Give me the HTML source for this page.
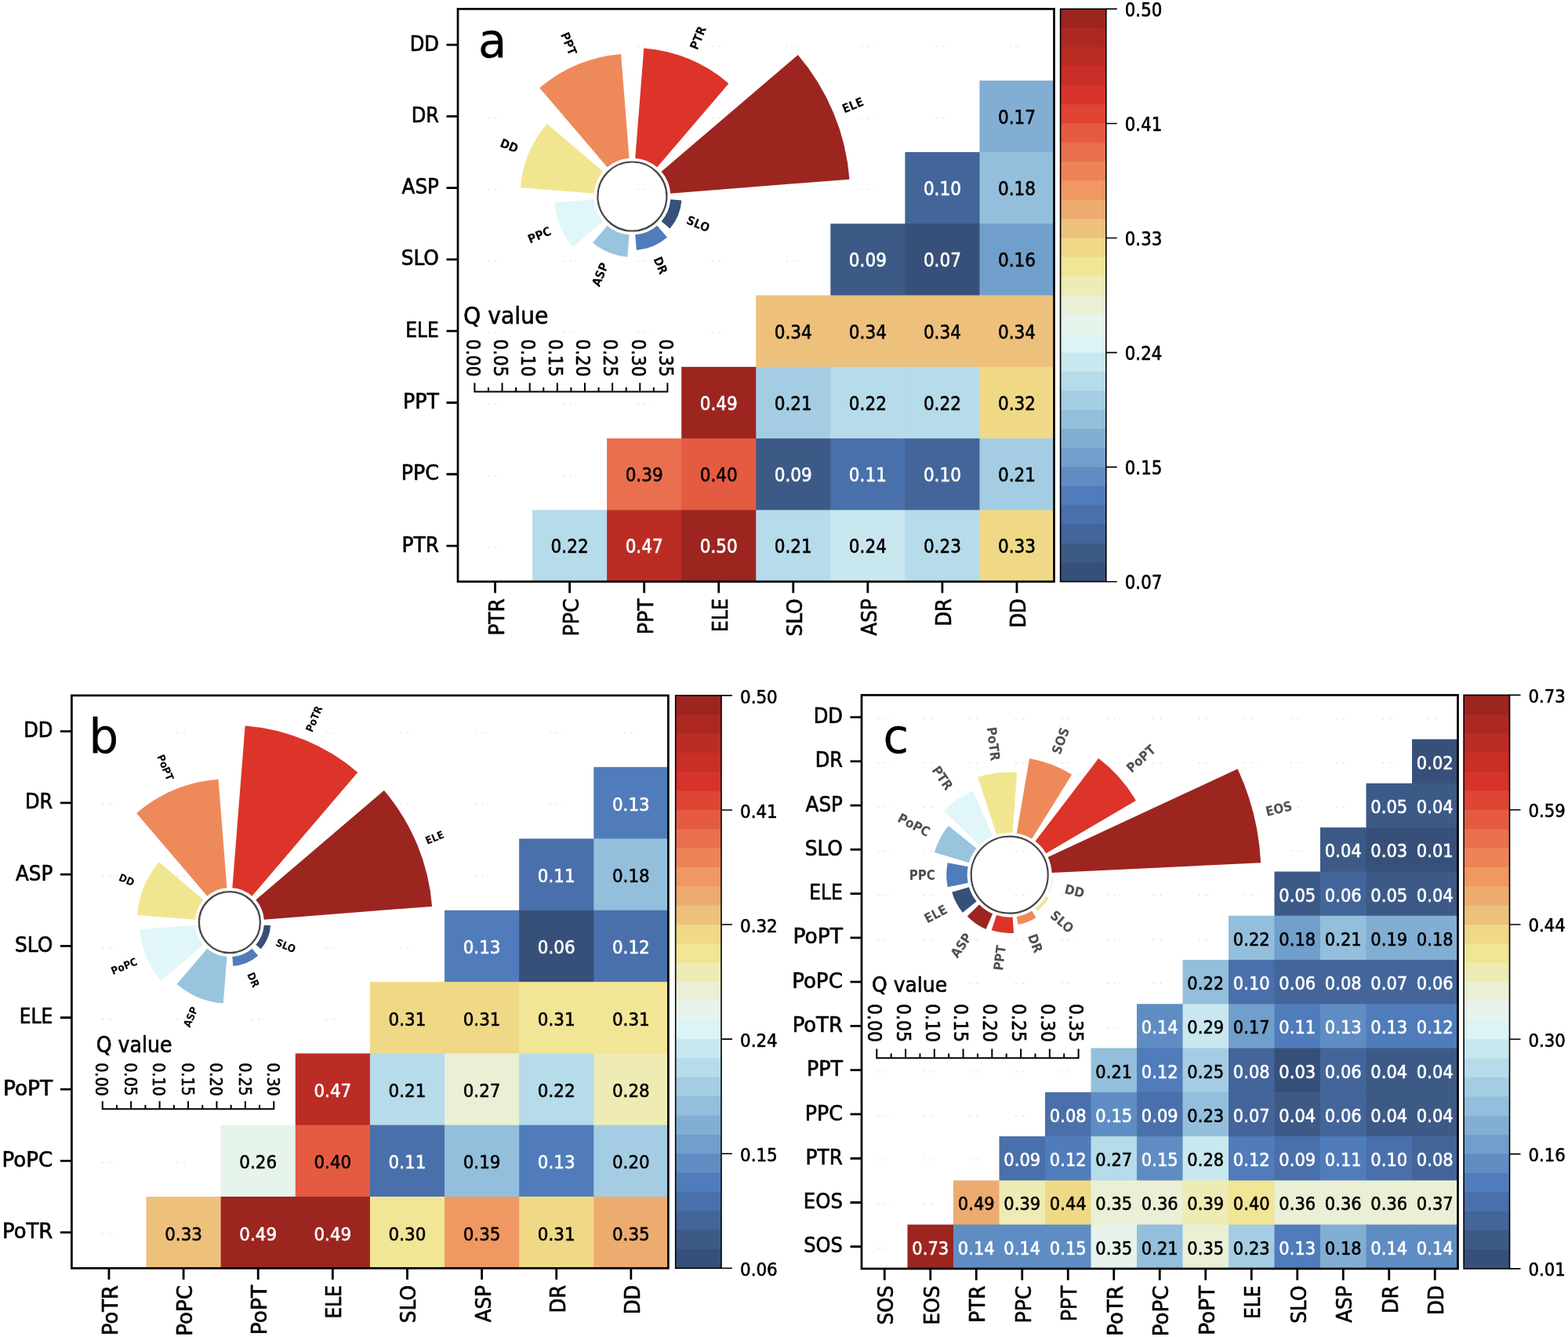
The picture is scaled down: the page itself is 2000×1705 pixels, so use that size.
<!DOCTYPE html>
<html lang="en"><head><meta charset="utf-8"><title>Q value heatmaps</title>
<style>
html,body{margin:0;padding:0;background:#fff}
body{width:2000px;height:1705px;overflow:hidden}
svg{display:block}
svg text{font-family:"DejaVu Sans Condensed","Liberation Sans",sans-serif;fill:#000;stroke:#000;stroke-width:0.6px;stroke-linejoin:round}
svg .rl text{font-family:"DejaVu Sans Condensed","Liberation Sans",sans-serif;font-weight:bold;stroke:none}
svg .rlg text{fill:#4f4f4f}
svg text.w{fill:#fff;stroke:#fff}
svg text.pl{stroke-width:0.3px}
</style></head><body>
<svg width="2000" height="1705" viewBox="0 0 2000 1705">
<rect width="2000" height="1705" fill="#fff"/>
<g id="panel-a">
<g class="cells">
<rect x="1249.44" y="102.69" width="95.06" height="92.29" fill="#82aed3"/>
<rect x="1154.38" y="193.98" width="96.06" height="92.29" fill="#43659a"/>
<rect x="1249.44" y="193.98" width="95.06" height="92.29" fill="#93bfdc"/>
<rect x="1059.31" y="285.26" width="96.06" height="92.29" fill="#3d5a87"/>
<rect x="1154.38" y="285.26" width="96.06" height="92.29" fill="#365079"/>
<rect x="1249.44" y="285.26" width="95.06" height="92.29" fill="#719fcb"/>
<rect x="964.25" y="376.55" width="96.06" height="92.29" fill="#edc07c"/>
<rect x="1059.31" y="376.55" width="96.06" height="92.29" fill="#edc07c"/>
<rect x="1154.38" y="376.55" width="96.06" height="92.29" fill="#edc07c"/>
<rect x="1249.44" y="376.55" width="95.06" height="92.29" fill="#edc07c"/>
<rect x="869.19" y="467.84" width="96.06" height="92.29" fill="#9c2520"/>
<rect x="964.25" y="467.84" width="96.06" height="92.29" fill="#a4cde3"/>
<rect x="1059.31" y="467.84" width="96.06" height="92.29" fill="#b6dbea"/>
<rect x="1154.38" y="467.84" width="96.06" height="92.29" fill="#b6dbea"/>
<rect x="1249.44" y="467.84" width="95.06" height="92.29" fill="#f0d986"/>
<rect x="774.12" y="559.12" width="96.06" height="92.29" fill="#e96f4e"/>
<rect x="869.19" y="559.12" width="96.06" height="92.29" fill="#e55b42"/>
<rect x="964.25" y="559.12" width="96.06" height="92.29" fill="#3d5a87"/>
<rect x="1059.31" y="559.12" width="96.06" height="92.29" fill="#4a70ab"/>
<rect x="1154.38" y="559.12" width="96.06" height="92.29" fill="#43659a"/>
<rect x="1249.44" y="559.12" width="95.06" height="92.29" fill="#a4cde3"/>
<rect x="679.06" y="650.41" width="96.06" height="91.29" fill="#b6dbea"/>
<rect x="774.12" y="650.41" width="96.06" height="91.29" fill="#bb2c25"/>
<rect x="869.19" y="650.41" width="96.06" height="91.29" fill="#9c2520"/>
<rect x="964.25" y="650.41" width="96.06" height="91.29" fill="#b6dbea"/>
<rect x="1059.31" y="650.41" width="96.06" height="91.29" fill="#c9e7ef"/>
<rect x="1154.38" y="650.41" width="96.06" height="91.29" fill="#b6dbea"/>
<rect x="1249.44" y="650.41" width="95.06" height="91.29" fill="#f0d986"/>
</g>
<path d="M622.63 58.14h1.8v1.8h-1.8zM631.73 58.14h1.8v1.8h-1.8zM717.69 58.14h1.8v1.8h-1.8zM726.79 58.14h1.8v1.8h-1.8zM812.76 58.14h1.8v1.8h-1.8zM821.86 58.14h1.8v1.8h-1.8zM907.82 58.14h1.8v1.8h-1.8zM916.92 58.14h1.8v1.8h-1.8zM1002.88 58.14h1.8v1.8h-1.8zM1011.98 58.14h1.8v1.8h-1.8zM1097.94 58.14h1.8v1.8h-1.8zM1107.04 58.14h1.8v1.8h-1.8zM1193.01 58.14h1.8v1.8h-1.8zM1202.11 58.14h1.8v1.8h-1.8zM1288.07 58.14h1.8v1.8h-1.8zM1297.17 58.14h1.8v1.8h-1.8zM622.63 149.43h1.8v1.8h-1.8zM631.73 149.43h1.8v1.8h-1.8zM717.69 149.43h1.8v1.8h-1.8zM726.79 149.43h1.8v1.8h-1.8zM812.76 149.43h1.8v1.8h-1.8zM821.86 149.43h1.8v1.8h-1.8zM907.82 149.43h1.8v1.8h-1.8zM916.92 149.43h1.8v1.8h-1.8zM1002.88 149.43h1.8v1.8h-1.8zM1011.98 149.43h1.8v1.8h-1.8zM1097.94 149.43h1.8v1.8h-1.8zM1107.04 149.43h1.8v1.8h-1.8zM1193.01 149.43h1.8v1.8h-1.8zM1202.11 149.43h1.8v1.8h-1.8zM622.63 240.72h1.8v1.8h-1.8zM631.73 240.72h1.8v1.8h-1.8zM717.69 240.72h1.8v1.8h-1.8zM726.79 240.72h1.8v1.8h-1.8zM812.76 240.72h1.8v1.8h-1.8zM821.86 240.72h1.8v1.8h-1.8zM907.82 240.72h1.8v1.8h-1.8zM916.92 240.72h1.8v1.8h-1.8zM1002.88 240.72h1.8v1.8h-1.8zM1011.98 240.72h1.8v1.8h-1.8zM1097.94 240.72h1.8v1.8h-1.8zM1107.04 240.72h1.8v1.8h-1.8zM622.63 332.01h1.8v1.8h-1.8zM631.73 332.01h1.8v1.8h-1.8zM717.69 332.01h1.8v1.8h-1.8zM726.79 332.01h1.8v1.8h-1.8zM812.76 332.01h1.8v1.8h-1.8zM821.86 332.01h1.8v1.8h-1.8zM907.82 332.01h1.8v1.8h-1.8zM916.92 332.01h1.8v1.8h-1.8zM1002.88 332.01h1.8v1.8h-1.8zM1011.98 332.01h1.8v1.8h-1.8zM622.63 423.29h1.8v1.8h-1.8zM631.73 423.29h1.8v1.8h-1.8zM717.69 423.29h1.8v1.8h-1.8zM726.79 423.29h1.8v1.8h-1.8zM812.76 423.29h1.8v1.8h-1.8zM821.86 423.29h1.8v1.8h-1.8zM907.82 423.29h1.8v1.8h-1.8zM916.92 423.29h1.8v1.8h-1.8zM622.63 514.58h1.8v1.8h-1.8zM631.73 514.58h1.8v1.8h-1.8zM717.69 514.58h1.8v1.8h-1.8zM726.79 514.58h1.8v1.8h-1.8zM812.76 514.58h1.8v1.8h-1.8zM821.86 514.58h1.8v1.8h-1.8zM622.63 605.87h1.8v1.8h-1.8zM631.73 605.87h1.8v1.8h-1.8zM717.69 605.87h1.8v1.8h-1.8zM726.79 605.87h1.8v1.8h-1.8zM622.63 697.16h1.8v1.8h-1.8zM631.73 697.16h1.8v1.8h-1.8z" fill="#dee3ec"/>
<path d="M628.93 58.04h1.6v1.8h-1.6zM638.13 58.04h1.6v1.8h-1.6zM723.99 58.04h1.6v1.8h-1.6zM733.19 58.04h1.6v1.8h-1.6zM819.06 58.04h1.6v1.8h-1.6zM828.26 58.04h1.6v1.8h-1.6zM914.12 58.04h1.6v1.8h-1.6zM923.32 58.04h1.6v1.8h-1.6zM1009.18 58.04h1.6v1.8h-1.6zM1018.38 58.04h1.6v1.8h-1.6zM1104.24 58.04h1.6v1.8h-1.6zM1113.44 58.04h1.6v1.8h-1.6zM1199.31 58.04h1.6v1.8h-1.6zM1208.51 58.04h1.6v1.8h-1.6zM1294.37 58.04h1.6v1.8h-1.6zM1303.57 58.04h1.6v1.8h-1.6zM628.93 149.33h1.6v1.8h-1.6zM638.13 149.33h1.6v1.8h-1.6zM723.99 149.33h1.6v1.8h-1.6zM733.19 149.33h1.6v1.8h-1.6zM819.06 149.33h1.6v1.8h-1.6zM828.26 149.33h1.6v1.8h-1.6zM914.12 149.33h1.6v1.8h-1.6zM923.32 149.33h1.6v1.8h-1.6zM1009.18 149.33h1.6v1.8h-1.6zM1018.38 149.33h1.6v1.8h-1.6zM1104.24 149.33h1.6v1.8h-1.6zM1113.44 149.33h1.6v1.8h-1.6zM1199.31 149.33h1.6v1.8h-1.6zM1208.51 149.33h1.6v1.8h-1.6zM628.93 240.62h1.6v1.8h-1.6zM638.13 240.62h1.6v1.8h-1.6zM723.99 240.62h1.6v1.8h-1.6zM733.19 240.62h1.6v1.8h-1.6zM819.06 240.62h1.6v1.8h-1.6zM828.26 240.62h1.6v1.8h-1.6zM914.12 240.62h1.6v1.8h-1.6zM923.32 240.62h1.6v1.8h-1.6zM1009.18 240.62h1.6v1.8h-1.6zM1018.38 240.62h1.6v1.8h-1.6zM1104.24 240.62h1.6v1.8h-1.6zM1113.44 240.62h1.6v1.8h-1.6zM628.93 331.91h1.6v1.8h-1.6zM638.13 331.91h1.6v1.8h-1.6zM723.99 331.91h1.6v1.8h-1.6zM733.19 331.91h1.6v1.8h-1.6zM819.06 331.91h1.6v1.8h-1.6zM828.26 331.91h1.6v1.8h-1.6zM914.12 331.91h1.6v1.8h-1.6zM923.32 331.91h1.6v1.8h-1.6zM1009.18 331.91h1.6v1.8h-1.6zM1018.38 331.91h1.6v1.8h-1.6zM628.93 423.19h1.6v1.8h-1.6zM638.13 423.19h1.6v1.8h-1.6zM723.99 423.19h1.6v1.8h-1.6zM733.19 423.19h1.6v1.8h-1.6zM819.06 423.19h1.6v1.8h-1.6zM828.26 423.19h1.6v1.8h-1.6zM914.12 423.19h1.6v1.8h-1.6zM923.32 423.19h1.6v1.8h-1.6zM628.93 514.48h1.6v1.8h-1.6zM638.13 514.48h1.6v1.8h-1.6zM723.99 514.48h1.6v1.8h-1.6zM733.19 514.48h1.6v1.8h-1.6zM819.06 514.48h1.6v1.8h-1.6zM828.26 514.48h1.6v1.8h-1.6zM628.93 605.77h1.6v1.8h-1.6zM638.13 605.77h1.6v1.8h-1.6zM723.99 605.77h1.6v1.8h-1.6zM733.19 605.77h1.6v1.8h-1.6zM628.93 697.06h1.6v1.8h-1.6zM638.13 697.06h1.6v1.8h-1.6z" fill="#fbfbf1"/>
<g class="rose">
<path d="M855.25 246.66L1083.54 228.69A278 278 0 0 0 1017.79 69.95L843.66 218.68A49 49 0 0 1 855.25 246.66Z" fill="#9c2520"/>
<path d="M838.22 213.24L929.47 106.4A189.5 189.5 0 0 0 821.27 61.58L810.24 201.65A49 49 0 0 1 838.22 213.24Z" fill="#dc3429"/>
<path d="M802.56 201.65L792.12 69.06A182 182 0 0 0 688.2 112.11L774.58 213.24A49 49 0 0 1 802.56 201.65Z" fill="#ee8a5a"/>
<path d="M769.14 218.68L697.66 157.63A143 143 0 0 0 663.84 239.28L757.55 246.66A49 49 0 0 1 769.14 218.68Z" fill="#f1e690"/>
<path d="M757.55 254.34L707.21 258.31A99.5 99.5 0 0 0 730.74 315.12L769.14 282.32A49 49 0 0 1 757.55 254.34Z" fill="#e1f6f9"/>
<path d="M774.58 287.76L756.07 309.43A77.5 77.5 0 0 0 800.32 327.76L802.56 299.35A49 49 0 0 1 774.58 287.76Z" fill="#98c4de"/>
<path d="M810.24 299.35L811.79 318.99A68.7 68.7 0 0 0 851.02 302.74L838.22 287.76A49 49 0 0 1 810.24 299.35Z" fill="#507cbb"/>
<path d="M843.66 282.32L854.46 291.55A63.2 63.2 0 0 0 869.41 255.46L855.25 254.34A49 49 0 0 1 843.66 282.32Z" fill="#365079"/>
<circle cx="806.4" cy="250.5" r="44" fill="none" stroke="#484848" stroke-width="2.2"/>
</g>
<g class="cv" text-anchor="middle">
<text font-size="24" transform="translate(1296.97 157.68)">0.17</text>
<text font-size="24" transform="translate(1201.91 248.97)" class="w">0.10</text>
<text font-size="24" transform="translate(1296.97 248.97)">0.18</text>
<text font-size="24" transform="translate(1106.84 340.25)" class="w">0.09</text>
<text font-size="24" transform="translate(1201.91 340.25)" class="w">0.07</text>
<text font-size="24" transform="translate(1296.97 340.25)">0.16</text>
<text font-size="24" transform="translate(1011.78 431.54)">0.34</text>
<text font-size="24" transform="translate(1106.84 431.54)">0.34</text>
<text font-size="24" transform="translate(1201.91 431.54)">0.34</text>
<text font-size="24" transform="translate(1296.97 431.54)">0.34</text>
<text font-size="24" transform="translate(916.72 522.83)" class="w">0.49</text>
<text font-size="24" transform="translate(1011.78 522.83)">0.21</text>
<text font-size="24" transform="translate(1106.84 522.83)">0.22</text>
<text font-size="24" transform="translate(1201.91 522.83)">0.22</text>
<text font-size="24" transform="translate(1296.97 522.83)">0.32</text>
<text font-size="24" transform="translate(821.66 614.12)">0.39</text>
<text font-size="24" transform="translate(916.72 614.12)">0.40</text>
<text font-size="24" transform="translate(1011.78 614.12)" class="w">0.09</text>
<text font-size="24" transform="translate(1106.84 614.12)" class="w">0.11</text>
<text font-size="24" transform="translate(1201.91 614.12)" class="w">0.10</text>
<text font-size="24" transform="translate(1296.97 614.12)">0.21</text>
<text font-size="24" transform="translate(726.59 705.4)">0.22</text>
<text font-size="24" transform="translate(821.66 705.4)" class="w">0.47</text>
<text font-size="24" transform="translate(916.72 705.4)" class="w">0.50</text>
<text font-size="24" transform="translate(1011.78 705.4)">0.21</text>
<text font-size="24" transform="translate(1106.84 705.4)">0.24</text>
<text font-size="24" transform="translate(1201.91 705.4)">0.23</text>
<text font-size="24" transform="translate(1296.97 705.4)">0.33</text>
</g>
<rect x="584" y="11.4" width="760.5" height="730.3" fill="none" stroke="#000" stroke-width="2.7"/>
<path d="M569.5 57.04H584M631.53 741.7V756.2M569.5 148.33H584M726.59 741.7V756.2M569.5 239.62H584M821.66 741.7V756.2M569.5 330.91H584M916.72 741.7V756.2M569.5 422.19H584M1011.78 741.7V756.2M569.5 513.48H584M1106.84 741.7V756.2M569.5 604.77H584M1201.91 741.7V756.2M569.5 696.06H584M1296.97 741.7V756.2" stroke="#000" stroke-width="2.8" fill="none"/>
<g class="yl" text-anchor="end">
<text font-size="26" transform="translate(559.9 64.62) scale(1.032 1)">DD</text>
<text font-size="26" transform="translate(559.9 155.91) scale(1.029 1)">DR</text>
<text font-size="26" transform="translate(559.9 247.2) scale(1.053 1)">ASP</text>
<text font-size="26" transform="translate(559.9 338.48) scale(1.064 1)">SLO</text>
<text font-size="26" transform="translate(559.9 429.77) scale(1 1)">ELE</text>
<text font-size="26" transform="translate(559.9 521.06) scale(1.08 1)">PPT</text>
<text font-size="26" transform="translate(559.9 612.35) scale(1.08 1)">PPC</text>
<text font-size="26" transform="translate(559.9 703.63) scale(1.06 1)">PTR</text>
</g>
<g class="xl" text-anchor="end">
<text font-size="26" transform="translate(642.51 763.3) rotate(-90) scale(1.06 1)">PTR</text>
<text font-size="26" transform="translate(737.57 763.3) rotate(-90) scale(1.08 1)">PPC</text>
<text font-size="26" transform="translate(832.63 763.3) rotate(-90) scale(1.08 1)">PPT</text>
<text font-size="26" transform="translate(927.7 763.3) rotate(-90) scale(1 1)">ELE</text>
<text font-size="26" transform="translate(1022.76 763.3) rotate(-90) scale(1.064 1)">SLO</text>
<text font-size="26" transform="translate(1117.82 763.3) rotate(-90) scale(1.053 1)">ASP</text>
<text font-size="26" transform="translate(1212.88 763.3) rotate(-90) scale(1.029 1)">DR</text>
<text font-size="26" transform="translate(1307.95 763.3) rotate(-90) scale(1.032 1)">DD</text>
</g>
<g class="cbar">
<rect x="1352.6" y="11.4" width="58.2" height="25.34" fill="#9c2520"/>
<rect x="1352.6" y="35.74" width="58.2" height="25.34" fill="#ad2822"/>
<rect x="1352.6" y="60.09" width="58.2" height="25.34" fill="#bb2c25"/>
<rect x="1352.6" y="84.43" width="58.2" height="25.34" fill="#c92e27"/>
<rect x="1352.6" y="108.77" width="58.2" height="25.34" fill="#d8332a"/>
<rect x="1352.6" y="133.12" width="58.2" height="25.34" fill="#e04434"/>
<rect x="1352.6" y="157.46" width="58.2" height="25.34" fill="#e55b42"/>
<rect x="1352.6" y="181.8" width="58.2" height="25.34" fill="#e96f4e"/>
<rect x="1352.6" y="206.15" width="58.2" height="25.34" fill="#ee8358"/>
<rect x="1352.6" y="230.49" width="58.2" height="25.34" fill="#ef9862"/>
<rect x="1352.6" y="254.83" width="58.2" height="25.34" fill="#ecab6f"/>
<rect x="1352.6" y="279.18" width="58.2" height="25.34" fill="#edc07c"/>
<rect x="1352.6" y="303.52" width="58.2" height="25.34" fill="#f0d986"/>
<rect x="1352.6" y="327.86" width="58.2" height="25.34" fill="#f1e596"/>
<rect x="1352.6" y="352.21" width="58.2" height="25.34" fill="#eeebb4"/>
<rect x="1352.6" y="376.55" width="58.2" height="25.34" fill="#eaf0d6"/>
<rect x="1352.6" y="400.89" width="58.2" height="25.34" fill="#e6f4eb"/>
<rect x="1352.6" y="425.24" width="58.2" height="25.34" fill="#dcf4f6"/>
<rect x="1352.6" y="449.58" width="58.2" height="25.34" fill="#c9e7ef"/>
<rect x="1352.6" y="473.92" width="58.2" height="25.34" fill="#b6dbea"/>
<rect x="1352.6" y="498.27" width="58.2" height="25.34" fill="#a4cde3"/>
<rect x="1352.6" y="522.61" width="58.2" height="25.34" fill="#93bfdc"/>
<rect x="1352.6" y="546.95" width="58.2" height="25.34" fill="#82aed3"/>
<rect x="1352.6" y="571.3" width="58.2" height="25.34" fill="#719fcb"/>
<rect x="1352.6" y="595.64" width="58.2" height="25.34" fill="#5f8dc3"/>
<rect x="1352.6" y="619.98" width="58.2" height="25.34" fill="#507cbb"/>
<rect x="1352.6" y="644.33" width="58.2" height="25.34" fill="#4a70ab"/>
<rect x="1352.6" y="668.67" width="58.2" height="25.34" fill="#43659a"/>
<rect x="1352.6" y="693.01" width="58.2" height="25.34" fill="#3d5a87"/>
<rect x="1352.6" y="717.36" width="58.2" height="24.34" fill="#365079"/>
</g>
<rect x="1352.6" y="11.4" width="58.2" height="730.3" fill="none" stroke="#000" stroke-width="1.6"/>
<path d="M1410.8 11.4H1424.8M1410.8 157.46H1424.8M1410.8 303.52H1424.8M1410.8 449.58H1424.8M1410.8 595.64H1424.8M1410.8 741.7H1424.8" stroke="#000" stroke-width="1.6" fill="none"/>
<g class="cl">
<text font-size="24" transform="translate(1434.8 21.15) scale(0.988 1)">0.50</text>
<text font-size="24" transform="translate(1434.8 167.21) scale(0.988 1)">0.41</text>
<text font-size="24" transform="translate(1434.8 313.27) scale(0.988 1)">0.33</text>
<text font-size="24" transform="translate(1434.8 459.33) scale(0.988 1)">0.24</text>
<text font-size="24" transform="translate(1434.8 605.39) scale(0.988 1)">0.15</text>
<text font-size="24" transform="translate(1434.8 751.45) scale(0.988 1)">0.07</text>
</g>
<text font-size="61" transform="translate(610 73) scale(1.08 1)" class="pl">a</text>
<g class="rose-labels">
<g class="rl" text-anchor="middle" font-size="15.5">
<text transform="translate(1087.63 134.01) rotate(-22.5)" y="5.65">ELE</text>
<text transform="translate(890.13 48.36) rotate(-67.5)" y="5.65">PTR</text>
<text transform="translate(725.65 55.56) rotate(67.5)" y="5.65">PPT</text>
<text transform="translate(649.71 185.6) rotate(22.5)" y="5.65">DD</text>
<text transform="translate(687.96 299.56) rotate(-22.5)" y="5.65">PPC</text>
<text transform="translate(765.15 350.09) rotate(-67.5)" y="5.65">ASP</text>
<text transform="translate(842.79 338.36) rotate(-292.5)" y="5.65">DR</text>
<text transform="translate(890.57 285.36) rotate(-337.5)" y="5.65">SLO</text>
</g>
</g>
<g class="qscale">
<text font-size="30.5" transform="translate(591 412.6) scale(1.03 1)">Q value</text>
<path d="M604.4 499.6H852.4M605.4 499.6V488.2M622.97 499.6V494M640.54 499.6V488.2M658.11 499.6V494M675.69 499.6V488.2M693.26 499.6V494M710.83 499.6V488.2M728.4 499.6V494M745.97 499.6V488.2M763.54 499.6V494M781.11 499.6V488.2M798.69 499.6V494M816.26 499.6V488.2M833.83 499.6V494M851.4 499.6V488.2" stroke="#000" stroke-width="2" fill="none"/>
<g text-anchor="end">
<text font-size="24" transform="translate(594.65 480.5) rotate(90)">0.00</text>
<text font-size="24" transform="translate(629.79 480.5) rotate(90)">0.05</text>
<text font-size="24" transform="translate(664.94 480.5) rotate(90)">0.10</text>
<text font-size="24" transform="translate(700.08 480.5) rotate(90)">0.15</text>
<text font-size="24" transform="translate(735.22 480.5) rotate(90)">0.20</text>
<text font-size="24" transform="translate(770.37 480.5) rotate(90)">0.25</text>
<text font-size="24" transform="translate(805.51 480.5) rotate(90)">0.30</text>
<text font-size="24" transform="translate(840.65 480.5) rotate(90)">0.35</text>
</g>
</g>
</g>
<g id="panel-b">
<g class="cells">
<rect x="757.27" y="978.2" width="95.12" height="92.3" fill="#507cbb"/>
<rect x="662.15" y="1069.5" width="96.12" height="92.3" fill="#4a70ab"/>
<rect x="757.27" y="1069.5" width="95.12" height="92.3" fill="#93bfdc"/>
<rect x="567.02" y="1160.8" width="96.12" height="92.3" fill="#507cbb"/>
<rect x="662.15" y="1160.8" width="96.12" height="92.3" fill="#365079"/>
<rect x="757.27" y="1160.8" width="95.12" height="92.3" fill="#4a70ab"/>
<rect x="471.9" y="1252.1" width="96.12" height="92.3" fill="#f0d986"/>
<rect x="567.02" y="1252.1" width="96.12" height="92.3" fill="#f0d986"/>
<rect x="662.15" y="1252.1" width="96.12" height="92.3" fill="#f1e596"/>
<rect x="757.27" y="1252.1" width="95.12" height="92.3" fill="#f1e596"/>
<rect x="376.77" y="1343.4" width="96.12" height="92.3" fill="#bb2c25"/>
<rect x="471.9" y="1343.4" width="96.12" height="92.3" fill="#b6dbea"/>
<rect x="567.02" y="1343.4" width="96.12" height="92.3" fill="#eaf0d6"/>
<rect x="662.15" y="1343.4" width="96.12" height="92.3" fill="#b6dbea"/>
<rect x="757.27" y="1343.4" width="95.12" height="92.3" fill="#eeebb4"/>
<rect x="281.65" y="1434.7" width="96.12" height="92.3" fill="#e6f4eb"/>
<rect x="376.77" y="1434.7" width="96.12" height="92.3" fill="#e55b42"/>
<rect x="471.9" y="1434.7" width="96.12" height="92.3" fill="#4a70ab"/>
<rect x="567.02" y="1434.7" width="96.12" height="92.3" fill="#93bfdc"/>
<rect x="662.15" y="1434.7" width="96.12" height="92.3" fill="#507cbb"/>
<rect x="757.27" y="1434.7" width="95.12" height="92.3" fill="#a4cde3"/>
<rect x="186.53" y="1526" width="96.12" height="91.3" fill="#edc07c"/>
<rect x="281.65" y="1526" width="96.12" height="91.3" fill="#9c2520"/>
<rect x="376.77" y="1526" width="96.12" height="91.3" fill="#9c2520"/>
<rect x="471.9" y="1526" width="96.12" height="91.3" fill="#f1e596"/>
<rect x="567.02" y="1526" width="96.12" height="91.3" fill="#ef9862"/>
<rect x="662.15" y="1526" width="96.12" height="91.3" fill="#f0d986"/>
<rect x="757.27" y="1526" width="95.12" height="91.3" fill="#ecab6f"/>
</g>
<path d="M130.06 933.65h1.8v1.8h-1.8zM139.16 933.65h1.8v1.8h-1.8zM225.19 933.65h1.8v1.8h-1.8zM234.29 933.65h1.8v1.8h-1.8zM320.31 933.65h1.8v1.8h-1.8zM329.41 933.65h1.8v1.8h-1.8zM415.44 933.65h1.8v1.8h-1.8zM424.54 933.65h1.8v1.8h-1.8zM510.56 933.65h1.8v1.8h-1.8zM519.66 933.65h1.8v1.8h-1.8zM605.69 933.65h1.8v1.8h-1.8zM614.79 933.65h1.8v1.8h-1.8zM700.81 933.65h1.8v1.8h-1.8zM709.91 933.65h1.8v1.8h-1.8zM795.94 933.65h1.8v1.8h-1.8zM805.04 933.65h1.8v1.8h-1.8zM130.06 1024.95h1.8v1.8h-1.8zM139.16 1024.95h1.8v1.8h-1.8zM225.19 1024.95h1.8v1.8h-1.8zM234.29 1024.95h1.8v1.8h-1.8zM320.31 1024.95h1.8v1.8h-1.8zM329.41 1024.95h1.8v1.8h-1.8zM415.44 1024.95h1.8v1.8h-1.8zM424.54 1024.95h1.8v1.8h-1.8zM510.56 1024.95h1.8v1.8h-1.8zM519.66 1024.95h1.8v1.8h-1.8zM605.69 1024.95h1.8v1.8h-1.8zM614.79 1024.95h1.8v1.8h-1.8zM700.81 1024.95h1.8v1.8h-1.8zM709.91 1024.95h1.8v1.8h-1.8zM130.06 1116.25h1.8v1.8h-1.8zM139.16 1116.25h1.8v1.8h-1.8zM225.19 1116.25h1.8v1.8h-1.8zM234.29 1116.25h1.8v1.8h-1.8zM320.31 1116.25h1.8v1.8h-1.8zM329.41 1116.25h1.8v1.8h-1.8zM415.44 1116.25h1.8v1.8h-1.8zM424.54 1116.25h1.8v1.8h-1.8zM510.56 1116.25h1.8v1.8h-1.8zM519.66 1116.25h1.8v1.8h-1.8zM605.69 1116.25h1.8v1.8h-1.8zM614.79 1116.25h1.8v1.8h-1.8zM130.06 1207.55h1.8v1.8h-1.8zM139.16 1207.55h1.8v1.8h-1.8zM225.19 1207.55h1.8v1.8h-1.8zM234.29 1207.55h1.8v1.8h-1.8zM320.31 1207.55h1.8v1.8h-1.8zM329.41 1207.55h1.8v1.8h-1.8zM415.44 1207.55h1.8v1.8h-1.8zM424.54 1207.55h1.8v1.8h-1.8zM510.56 1207.55h1.8v1.8h-1.8zM519.66 1207.55h1.8v1.8h-1.8zM130.06 1298.85h1.8v1.8h-1.8zM139.16 1298.85h1.8v1.8h-1.8zM225.19 1298.85h1.8v1.8h-1.8zM234.29 1298.85h1.8v1.8h-1.8zM320.31 1298.85h1.8v1.8h-1.8zM329.41 1298.85h1.8v1.8h-1.8zM415.44 1298.85h1.8v1.8h-1.8zM424.54 1298.85h1.8v1.8h-1.8zM130.06 1390.15h1.8v1.8h-1.8zM139.16 1390.15h1.8v1.8h-1.8zM225.19 1390.15h1.8v1.8h-1.8zM234.29 1390.15h1.8v1.8h-1.8zM320.31 1390.15h1.8v1.8h-1.8zM329.41 1390.15h1.8v1.8h-1.8zM130.06 1481.45h1.8v1.8h-1.8zM139.16 1481.45h1.8v1.8h-1.8zM225.19 1481.45h1.8v1.8h-1.8zM234.29 1481.45h1.8v1.8h-1.8zM130.06 1572.75h1.8v1.8h-1.8zM139.16 1572.75h1.8v1.8h-1.8z" fill="#dee3ec"/>
<path d="M136.36 933.55h1.6v1.8h-1.6zM145.56 933.55h1.6v1.8h-1.6zM231.49 933.55h1.6v1.8h-1.6zM240.69 933.55h1.6v1.8h-1.6zM326.61 933.55h1.6v1.8h-1.6zM335.81 933.55h1.6v1.8h-1.6zM421.74 933.55h1.6v1.8h-1.6zM430.94 933.55h1.6v1.8h-1.6zM516.86 933.55h1.6v1.8h-1.6zM526.06 933.55h1.6v1.8h-1.6zM611.99 933.55h1.6v1.8h-1.6zM621.19 933.55h1.6v1.8h-1.6zM707.11 933.55h1.6v1.8h-1.6zM716.31 933.55h1.6v1.8h-1.6zM802.24 933.55h1.6v1.8h-1.6zM811.44 933.55h1.6v1.8h-1.6zM136.36 1024.85h1.6v1.8h-1.6zM145.56 1024.85h1.6v1.8h-1.6zM231.49 1024.85h1.6v1.8h-1.6zM240.69 1024.85h1.6v1.8h-1.6zM326.61 1024.85h1.6v1.8h-1.6zM335.81 1024.85h1.6v1.8h-1.6zM421.74 1024.85h1.6v1.8h-1.6zM430.94 1024.85h1.6v1.8h-1.6zM516.86 1024.85h1.6v1.8h-1.6zM526.06 1024.85h1.6v1.8h-1.6zM611.99 1024.85h1.6v1.8h-1.6zM621.19 1024.85h1.6v1.8h-1.6zM707.11 1024.85h1.6v1.8h-1.6zM716.31 1024.85h1.6v1.8h-1.6zM136.36 1116.15h1.6v1.8h-1.6zM145.56 1116.15h1.6v1.8h-1.6zM231.49 1116.15h1.6v1.8h-1.6zM240.69 1116.15h1.6v1.8h-1.6zM326.61 1116.15h1.6v1.8h-1.6zM335.81 1116.15h1.6v1.8h-1.6zM421.74 1116.15h1.6v1.8h-1.6zM430.94 1116.15h1.6v1.8h-1.6zM516.86 1116.15h1.6v1.8h-1.6zM526.06 1116.15h1.6v1.8h-1.6zM611.99 1116.15h1.6v1.8h-1.6zM621.19 1116.15h1.6v1.8h-1.6zM136.36 1207.45h1.6v1.8h-1.6zM145.56 1207.45h1.6v1.8h-1.6zM231.49 1207.45h1.6v1.8h-1.6zM240.69 1207.45h1.6v1.8h-1.6zM326.61 1207.45h1.6v1.8h-1.6zM335.81 1207.45h1.6v1.8h-1.6zM421.74 1207.45h1.6v1.8h-1.6zM430.94 1207.45h1.6v1.8h-1.6zM516.86 1207.45h1.6v1.8h-1.6zM526.06 1207.45h1.6v1.8h-1.6zM136.36 1298.75h1.6v1.8h-1.6zM145.56 1298.75h1.6v1.8h-1.6zM231.49 1298.75h1.6v1.8h-1.6zM240.69 1298.75h1.6v1.8h-1.6zM326.61 1298.75h1.6v1.8h-1.6zM335.81 1298.75h1.6v1.8h-1.6zM421.74 1298.75h1.6v1.8h-1.6zM430.94 1298.75h1.6v1.8h-1.6zM136.36 1390.05h1.6v1.8h-1.6zM145.56 1390.05h1.6v1.8h-1.6zM231.49 1390.05h1.6v1.8h-1.6zM240.69 1390.05h1.6v1.8h-1.6zM326.61 1390.05h1.6v1.8h-1.6zM335.81 1390.05h1.6v1.8h-1.6zM136.36 1481.35h1.6v1.8h-1.6zM145.56 1481.35h1.6v1.8h-1.6zM231.49 1481.35h1.6v1.8h-1.6zM240.69 1481.35h1.6v1.8h-1.6zM136.36 1572.65h1.6v1.8h-1.6zM145.56 1572.65h1.6v1.8h-1.6z" fill="#fbfbf1"/>
<g class="rose">
<path d="M336.76 1172.75L551.1 1155.88A259 259 0 0 0 489.85 1007.99L326.36 1147.62A44 44 0 0 1 336.76 1172.75Z" fill="#9c2520"/>
<path d="M321.48 1142.74L456.24 984.96A251.5 251.5 0 0 0 312.63 925.48L296.35 1132.34A44 44 0 0 1 321.48 1142.74Z" fill="#dc3429"/>
<path d="M289.45 1132.34L278.54 993.76A183 183 0 0 0 174.05 1037.05L264.32 1142.74A44 44 0 0 1 289.45 1132.34Z" fill="#ee8a5a"/>
<path d="M259.44 1147.62L202.94 1099.37A118.3 118.3 0 0 0 174.96 1166.92L249.04 1172.75A44 44 0 0 1 259.44 1147.62Z" fill="#f1e690"/>
<path d="M249.04 1179.65L178.25 1185.22A115 115 0 0 0 205.45 1250.89L259.44 1204.78A44 44 0 0 1 249.04 1179.65Z" fill="#e1f6f9"/>
<path d="M264.32 1209.66L225.55 1255.05A103.7 103.7 0 0 0 284.76 1279.58L289.45 1220.06A44 44 0 0 1 264.32 1209.66Z" fill="#98c4de"/>
<path d="M296.35 1220.06L297.29 1232.03A56 56 0 0 0 329.27 1218.78L321.48 1209.66A44 44 0 0 1 296.35 1220.06Z" fill="#507cbb"/>
<path d="M326.36 1204.78L332.82 1210.3A52.5 52.5 0 0 0 345.24 1180.32L336.76 1179.65A44 44 0 0 1 326.36 1204.78Z" fill="#365079"/>
<circle cx="292.9" cy="1176.2" r="39" fill="none" stroke="#484848" stroke-width="2.3"/>
</g>
<g class="cv" text-anchor="middle">
<text font-size="23.6" transform="translate(804.84 1033.75) scale(1.01 1)" class="w">0.13</text>
<text font-size="23.6" transform="translate(709.71 1125.05) scale(1.01 1)" class="w">0.11</text>
<text font-size="23.6" transform="translate(804.84 1125.05) scale(1.01 1)">0.18</text>
<text font-size="23.6" transform="translate(614.59 1216.35) scale(1.01 1)" class="w">0.13</text>
<text font-size="23.6" transform="translate(709.71 1216.35) scale(1.01 1)" class="w">0.06</text>
<text font-size="23.6" transform="translate(804.84 1216.35) scale(1.01 1)" class="w">0.12</text>
<text font-size="23.6" transform="translate(519.46 1307.65) scale(1.01 1)">0.31</text>
<text font-size="23.6" transform="translate(614.59 1307.65) scale(1.01 1)">0.31</text>
<text font-size="23.6" transform="translate(709.71 1307.65) scale(1.01 1)">0.31</text>
<text font-size="23.6" transform="translate(804.84 1307.65) scale(1.01 1)">0.31</text>
<text font-size="23.6" transform="translate(424.34 1398.95) scale(1.01 1)" class="w">0.47</text>
<text font-size="23.6" transform="translate(519.46 1398.95) scale(1.01 1)">0.21</text>
<text font-size="23.6" transform="translate(614.59 1398.95) scale(1.01 1)">0.27</text>
<text font-size="23.6" transform="translate(709.71 1398.95) scale(1.01 1)">0.22</text>
<text font-size="23.6" transform="translate(804.84 1398.95) scale(1.01 1)">0.28</text>
<text font-size="23.6" transform="translate(329.21 1490.25) scale(1.01 1)">0.26</text>
<text font-size="23.6" transform="translate(424.34 1490.25) scale(1.01 1)">0.40</text>
<text font-size="23.6" transform="translate(519.46 1490.25) scale(1.01 1)" class="w">0.11</text>
<text font-size="23.6" transform="translate(614.59 1490.25) scale(1.01 1)">0.19</text>
<text font-size="23.6" transform="translate(709.71 1490.25) scale(1.01 1)" class="w">0.13</text>
<text font-size="23.6" transform="translate(804.84 1490.25) scale(1.01 1)">0.20</text>
<text font-size="23.6" transform="translate(234.09 1581.55) scale(1.01 1)">0.33</text>
<text font-size="23.6" transform="translate(329.21 1581.55) scale(1.01 1)" class="w">0.49</text>
<text font-size="23.6" transform="translate(424.34 1581.55) scale(1.01 1)" class="w">0.49</text>
<text font-size="23.6" transform="translate(519.46 1581.55) scale(1.01 1)">0.30</text>
<text font-size="23.6" transform="translate(614.59 1581.55) scale(1.01 1)">0.35</text>
<text font-size="23.6" transform="translate(709.71 1581.55) scale(1.01 1)">0.31</text>
<text font-size="23.6" transform="translate(804.84 1581.55) scale(1.01 1)">0.35</text>
</g>
<rect x="91.4" y="886.9" width="761" height="730.4" fill="none" stroke="#000" stroke-width="2.7"/>
<path d="M76.9 932.55H91.4M138.96 1617.3V1631.8M76.9 1023.85H91.4M234.09 1617.3V1631.8M76.9 1115.15H91.4M329.21 1617.3V1631.8M76.9 1206.45H91.4M424.34 1617.3V1631.8M76.9 1297.75H91.4M519.46 1617.3V1631.8M76.9 1389.05H91.4M614.59 1617.3V1631.8M76.9 1480.35H91.4M709.71 1617.3V1631.8M76.9 1571.65H91.4M804.84 1617.3V1631.8" stroke="#000" stroke-width="2.8" fill="none"/>
<g class="yl" text-anchor="end">
<text font-size="26" transform="translate(67.3 940.13) scale(1.032 1)">DD</text>
<text font-size="26" transform="translate(67.3 1031.43) scale(1.029 1)">DR</text>
<text font-size="26" transform="translate(67.3 1122.73) scale(1.053 1)">ASP</text>
<text font-size="26" transform="translate(67.3 1214.03) scale(1.064 1)">SLO</text>
<text font-size="26" transform="translate(67.3 1305.33) scale(1 1)">ELE</text>
<text font-size="26" transform="translate(67.3 1396.63) scale(1.134 1)">PoPT</text>
<text font-size="26" transform="translate(67.3 1487.93) scale(1.118 1)">PoPC</text>
<text font-size="26" transform="translate(67.3 1579.23) scale(1.107 1)">PoTR</text>
</g>
<g class="xl" text-anchor="end">
<text font-size="26" transform="translate(149.94 1638.9) rotate(-90) scale(1.107 1)">PoTR</text>
<text font-size="26" transform="translate(245.06 1638.9) rotate(-90) scale(1.118 1)">PoPC</text>
<text font-size="26" transform="translate(340.19 1638.9) rotate(-90) scale(1.134 1)">PoPT</text>
<text font-size="26" transform="translate(435.31 1638.9) rotate(-90) scale(1 1)">ELE</text>
<text font-size="26" transform="translate(530.44 1638.9) rotate(-90) scale(1.064 1)">SLO</text>
<text font-size="26" transform="translate(625.56 1638.9) rotate(-90) scale(1.053 1)">ASP</text>
<text font-size="26" transform="translate(720.69 1638.9) rotate(-90) scale(1.029 1)">DR</text>
<text font-size="26" transform="translate(815.81 1638.9) rotate(-90) scale(1.032 1)">DD</text>
</g>
<g class="cbar">
<rect x="861.7" y="886.9" width="58.3" height="25.35" fill="#9c2520"/>
<rect x="861.7" y="911.25" width="58.3" height="25.35" fill="#ad2822"/>
<rect x="861.7" y="935.59" width="58.3" height="25.35" fill="#bb2c25"/>
<rect x="861.7" y="959.94" width="58.3" height="25.35" fill="#c92e27"/>
<rect x="861.7" y="984.29" width="58.3" height="25.35" fill="#d8332a"/>
<rect x="861.7" y="1008.63" width="58.3" height="25.35" fill="#e04434"/>
<rect x="861.7" y="1032.98" width="58.3" height="25.35" fill="#e55b42"/>
<rect x="861.7" y="1057.33" width="58.3" height="25.35" fill="#e96f4e"/>
<rect x="861.7" y="1081.67" width="58.3" height="25.35" fill="#ee8358"/>
<rect x="861.7" y="1106.02" width="58.3" height="25.35" fill="#ef9862"/>
<rect x="861.7" y="1130.37" width="58.3" height="25.35" fill="#ecab6f"/>
<rect x="861.7" y="1154.71" width="58.3" height="25.35" fill="#edc07c"/>
<rect x="861.7" y="1179.06" width="58.3" height="25.35" fill="#f0d986"/>
<rect x="861.7" y="1203.41" width="58.3" height="25.35" fill="#f1e596"/>
<rect x="861.7" y="1227.75" width="58.3" height="25.35" fill="#eeebb4"/>
<rect x="861.7" y="1252.1" width="58.3" height="25.35" fill="#eaf0d6"/>
<rect x="861.7" y="1276.45" width="58.3" height="25.35" fill="#e6f4eb"/>
<rect x="861.7" y="1300.79" width="58.3" height="25.35" fill="#dcf4f6"/>
<rect x="861.7" y="1325.14" width="58.3" height="25.35" fill="#c9e7ef"/>
<rect x="861.7" y="1349.49" width="58.3" height="25.35" fill="#b6dbea"/>
<rect x="861.7" y="1373.83" width="58.3" height="25.35" fill="#a4cde3"/>
<rect x="861.7" y="1398.18" width="58.3" height="25.35" fill="#93bfdc"/>
<rect x="861.7" y="1422.53" width="58.3" height="25.35" fill="#82aed3"/>
<rect x="861.7" y="1446.87" width="58.3" height="25.35" fill="#719fcb"/>
<rect x="861.7" y="1471.22" width="58.3" height="25.35" fill="#5f8dc3"/>
<rect x="861.7" y="1495.57" width="58.3" height="25.35" fill="#507cbb"/>
<rect x="861.7" y="1519.91" width="58.3" height="25.35" fill="#4a70ab"/>
<rect x="861.7" y="1544.26" width="58.3" height="25.35" fill="#43659a"/>
<rect x="861.7" y="1568.61" width="58.3" height="25.35" fill="#3d5a87"/>
<rect x="861.7" y="1592.95" width="58.3" height="24.35" fill="#365079"/>
</g>
<rect x="861.7" y="886.9" width="58.3" height="730.4" fill="none" stroke="#000" stroke-width="1.6"/>
<path d="M920 886.9H934M920 1032.98H934M920 1179.06H934M920 1325.14H934M920 1471.22H934M920 1617.3H934" stroke="#000" stroke-width="1.6" fill="none"/>
<g class="cl">
<text font-size="23.6" transform="translate(944 896.5) scale(1.01 1)">0.50</text>
<text font-size="23.6" transform="translate(944 1042.58) scale(1.01 1)">0.41</text>
<text font-size="23.6" transform="translate(944 1188.66) scale(1.01 1)">0.32</text>
<text font-size="23.6" transform="translate(944 1334.74) scale(1.01 1)">0.24</text>
<text font-size="23.6" transform="translate(944 1480.82) scale(1.01 1)">0.15</text>
<text font-size="23.6" transform="translate(944 1626.9) scale(1.01 1)">0.06</text>
</g>
<text font-size="61" transform="translate(113.5 960) scale(1.08 1)" class="pl">b</text>
<g class="rose-labels">
<g class="rl" text-anchor="middle" font-size="13.4">
<text transform="translate(554.36 1067.9) rotate(-22.5)" y="4.88">ELE</text>
<text transform="translate(400.36 916.77) rotate(-67.5)" y="4.88">PoTR</text>
<text transform="translate(211.08 978.67) rotate(67.5)" y="4.88">PoPT</text>
<text transform="translate(161.71 1121.86) rotate(22.5)" y="4.88">DD</text>
<text transform="translate(158.29 1231.96) rotate(-22.5)" y="4.88">PoPC</text>
<text transform="translate(242.96 1296.77) rotate(-67.5)" y="4.88">ASP</text>
<text transform="translate(323.29 1249.56) rotate(-292.5)" y="4.88">DR</text>
<text transform="translate(364.59 1205.9) rotate(-337.5)" y="4.88">SLO</text>
</g>
</g>
<g class="qscale">
<text font-size="27.5" transform="translate(122.7 1341.5) scale(1.02 1)">Q value</text>
<path d="M129.75 1414.3H350.3M130.75 1414.3V1404.3M148.96 1414.3V1409.1M167.18 1414.3V1404.3M185.39 1414.3V1409.1M203.6 1414.3V1404.3M221.81 1414.3V1409.1M240.03 1414.3V1404.3M258.24 1414.3V1409.1M276.45 1414.3V1404.3M294.66 1414.3V1409.1M312.88 1414.3V1404.3M331.09 1414.3V1409.1M349.3 1414.3V1404.3" stroke="#000" stroke-width="2" fill="none"/>
<g text-anchor="end">
<text font-size="21.1" transform="translate(122.41 1397.8) rotate(90) scale(1.01 1)">0.00</text>
<text font-size="21.1" transform="translate(158.83 1397.8) rotate(90) scale(1.01 1)">0.05</text>
<text font-size="21.1" transform="translate(195.26 1397.8) rotate(90) scale(1.01 1)">0.10</text>
<text font-size="21.1" transform="translate(231.68 1397.8) rotate(90) scale(1.01 1)">0.15</text>
<text font-size="21.1" transform="translate(268.11 1397.8) rotate(90) scale(1.01 1)">0.20</text>
<text font-size="21.1" transform="translate(304.53 1397.8) rotate(90) scale(1.01 1)">0.25</text>
<text font-size="21.1" transform="translate(340.96 1397.8) rotate(90) scale(1.01 1)">0.30</text>
</g>
</g>
</g>
<g id="panel-c">
<g class="cells">
<rect x="1801" y="942.67" width="58.5" height="57.27" fill="#365079"/>
<rect x="1742.5" y="998.94" width="59.5" height="57.27" fill="#3d5a87"/>
<rect x="1801" y="998.94" width="58.5" height="57.27" fill="#3d5a87"/>
<rect x="1684" y="1055.21" width="59.5" height="57.27" fill="#3d5a87"/>
<rect x="1742.5" y="1055.21" width="59.5" height="57.27" fill="#365079"/>
<rect x="1801" y="1055.21" width="58.5" height="57.27" fill="#365079"/>
<rect x="1625.5" y="1111.48" width="59.5" height="57.27" fill="#3d5a87"/>
<rect x="1684" y="1111.48" width="59.5" height="57.27" fill="#43659a"/>
<rect x="1742.5" y="1111.48" width="59.5" height="57.27" fill="#3d5a87"/>
<rect x="1801" y="1111.48" width="58.5" height="57.27" fill="#3d5a87"/>
<rect x="1567" y="1167.75" width="59.5" height="57.27" fill="#93bfdc"/>
<rect x="1625.5" y="1167.75" width="59.5" height="57.27" fill="#719fcb"/>
<rect x="1684" y="1167.75" width="59.5" height="57.27" fill="#93bfdc"/>
<rect x="1742.5" y="1167.75" width="59.5" height="57.27" fill="#82aed3"/>
<rect x="1801" y="1167.75" width="58.5" height="57.27" fill="#82aed3"/>
<rect x="1508.5" y="1224.02" width="59.5" height="57.27" fill="#93bfdc"/>
<rect x="1567" y="1224.02" width="59.5" height="57.27" fill="#4a70ab"/>
<rect x="1625.5" y="1224.02" width="59.5" height="57.27" fill="#43659a"/>
<rect x="1684" y="1224.02" width="59.5" height="57.27" fill="#43659a"/>
<rect x="1742.5" y="1224.02" width="59.5" height="57.27" fill="#43659a"/>
<rect x="1801" y="1224.02" width="58.5" height="57.27" fill="#43659a"/>
<rect x="1450" y="1280.28" width="59.5" height="57.27" fill="#5f8dc3"/>
<rect x="1508.5" y="1280.28" width="59.5" height="57.27" fill="#c9e7ef"/>
<rect x="1567" y="1280.28" width="59.5" height="57.27" fill="#719fcb"/>
<rect x="1625.5" y="1280.28" width="59.5" height="57.27" fill="#507cbb"/>
<rect x="1684" y="1280.28" width="59.5" height="57.27" fill="#5f8dc3"/>
<rect x="1742.5" y="1280.28" width="59.5" height="57.27" fill="#507cbb"/>
<rect x="1801" y="1280.28" width="58.5" height="57.27" fill="#507cbb"/>
<rect x="1391.5" y="1336.55" width="59.5" height="57.27" fill="#93bfdc"/>
<rect x="1450" y="1336.55" width="59.5" height="57.27" fill="#507cbb"/>
<rect x="1508.5" y="1336.55" width="59.5" height="57.27" fill="#a4cde3"/>
<rect x="1567" y="1336.55" width="59.5" height="57.27" fill="#43659a"/>
<rect x="1625.5" y="1336.55" width="59.5" height="57.27" fill="#365079"/>
<rect x="1684" y="1336.55" width="59.5" height="57.27" fill="#43659a"/>
<rect x="1742.5" y="1336.55" width="59.5" height="57.27" fill="#3d5a87"/>
<rect x="1801" y="1336.55" width="58.5" height="57.27" fill="#3d5a87"/>
<rect x="1333" y="1392.82" width="59.5" height="57.27" fill="#4a70ab"/>
<rect x="1391.5" y="1392.82" width="59.5" height="57.27" fill="#5f8dc3"/>
<rect x="1450" y="1392.82" width="59.5" height="57.27" fill="#4a70ab"/>
<rect x="1508.5" y="1392.82" width="59.5" height="57.27" fill="#93bfdc"/>
<rect x="1567" y="1392.82" width="59.5" height="57.27" fill="#43659a"/>
<rect x="1625.5" y="1392.82" width="59.5" height="57.27" fill="#3d5a87"/>
<rect x="1684" y="1392.82" width="59.5" height="57.27" fill="#43659a"/>
<rect x="1742.5" y="1392.82" width="59.5" height="57.27" fill="#3d5a87"/>
<rect x="1801" y="1392.82" width="58.5" height="57.27" fill="#3d5a87"/>
<rect x="1274.5" y="1449.09" width="59.5" height="57.27" fill="#4a70ab"/>
<rect x="1333" y="1449.09" width="59.5" height="57.27" fill="#507cbb"/>
<rect x="1391.5" y="1449.09" width="59.5" height="57.27" fill="#b6dbea"/>
<rect x="1450" y="1449.09" width="59.5" height="57.27" fill="#5f8dc3"/>
<rect x="1508.5" y="1449.09" width="59.5" height="57.27" fill="#c9e7ef"/>
<rect x="1567" y="1449.09" width="59.5" height="57.27" fill="#507cbb"/>
<rect x="1625.5" y="1449.09" width="59.5" height="57.27" fill="#4a70ab"/>
<rect x="1684" y="1449.09" width="59.5" height="57.27" fill="#507cbb"/>
<rect x="1742.5" y="1449.09" width="59.5" height="57.27" fill="#4a70ab"/>
<rect x="1801" y="1449.09" width="58.5" height="57.27" fill="#43659a"/>
<rect x="1216" y="1505.36" width="59.5" height="57.27" fill="#ecab6f"/>
<rect x="1274.5" y="1505.36" width="59.5" height="57.27" fill="#eeebb4"/>
<rect x="1333" y="1505.36" width="59.5" height="57.27" fill="#f0d986"/>
<rect x="1391.5" y="1505.36" width="59.5" height="57.27" fill="#eaf0d6"/>
<rect x="1450" y="1505.36" width="59.5" height="57.27" fill="#eaf0d6"/>
<rect x="1508.5" y="1505.36" width="59.5" height="57.27" fill="#eeebb4"/>
<rect x="1567" y="1505.36" width="59.5" height="57.27" fill="#f1e596"/>
<rect x="1625.5" y="1505.36" width="59.5" height="57.27" fill="#eaf0d6"/>
<rect x="1684" y="1505.36" width="59.5" height="57.27" fill="#eaf0d6"/>
<rect x="1742.5" y="1505.36" width="59.5" height="57.27" fill="#eaf0d6"/>
<rect x="1801" y="1505.36" width="58.5" height="57.27" fill="#eaf0d6"/>
<rect x="1157.5" y="1561.63" width="59.5" height="56.27" fill="#9c2520"/>
<rect x="1216" y="1561.63" width="59.5" height="56.27" fill="#5f8dc3"/>
<rect x="1274.5" y="1561.63" width="59.5" height="56.27" fill="#5f8dc3"/>
<rect x="1333" y="1561.63" width="59.5" height="56.27" fill="#5f8dc3"/>
<rect x="1391.5" y="1561.63" width="59.5" height="56.27" fill="#e6f4eb"/>
<rect x="1450" y="1561.63" width="59.5" height="56.27" fill="#93bfdc"/>
<rect x="1508.5" y="1561.63" width="59.5" height="56.27" fill="#eaf0d6"/>
<rect x="1567" y="1561.63" width="59.5" height="56.27" fill="#a4cde3"/>
<rect x="1625.5" y="1561.63" width="59.5" height="56.27" fill="#507cbb"/>
<rect x="1684" y="1561.63" width="59.5" height="56.27" fill="#82aed3"/>
<rect x="1742.5" y="1561.63" width="59.5" height="56.27" fill="#5f8dc3"/>
<rect x="1801" y="1561.63" width="58.5" height="56.27" fill="#5f8dc3"/>
</g>
<path d="M1119.35 915.63h1.8v1.8h-1.8zM1128.45 915.63h1.8v1.8h-1.8zM1177.85 915.63h1.8v1.8h-1.8zM1186.95 915.63h1.8v1.8h-1.8zM1236.35 915.63h1.8v1.8h-1.8zM1245.45 915.63h1.8v1.8h-1.8zM1294.85 915.63h1.8v1.8h-1.8zM1303.95 915.63h1.8v1.8h-1.8zM1353.35 915.63h1.8v1.8h-1.8zM1362.45 915.63h1.8v1.8h-1.8zM1411.85 915.63h1.8v1.8h-1.8zM1420.95 915.63h1.8v1.8h-1.8zM1470.35 915.63h1.8v1.8h-1.8zM1479.45 915.63h1.8v1.8h-1.8zM1528.85 915.63h1.8v1.8h-1.8zM1537.95 915.63h1.8v1.8h-1.8zM1587.35 915.63h1.8v1.8h-1.8zM1596.45 915.63h1.8v1.8h-1.8zM1645.85 915.63h1.8v1.8h-1.8zM1654.95 915.63h1.8v1.8h-1.8zM1704.35 915.63h1.8v1.8h-1.8zM1713.45 915.63h1.8v1.8h-1.8zM1762.85 915.63h1.8v1.8h-1.8zM1771.95 915.63h1.8v1.8h-1.8zM1821.35 915.63h1.8v1.8h-1.8zM1830.45 915.63h1.8v1.8h-1.8zM1119.35 971.9h1.8v1.8h-1.8zM1128.45 971.9h1.8v1.8h-1.8zM1177.85 971.9h1.8v1.8h-1.8zM1186.95 971.9h1.8v1.8h-1.8zM1236.35 971.9h1.8v1.8h-1.8zM1245.45 971.9h1.8v1.8h-1.8zM1294.85 971.9h1.8v1.8h-1.8zM1303.95 971.9h1.8v1.8h-1.8zM1353.35 971.9h1.8v1.8h-1.8zM1362.45 971.9h1.8v1.8h-1.8zM1411.85 971.9h1.8v1.8h-1.8zM1420.95 971.9h1.8v1.8h-1.8zM1470.35 971.9h1.8v1.8h-1.8zM1479.45 971.9h1.8v1.8h-1.8zM1528.85 971.9h1.8v1.8h-1.8zM1537.95 971.9h1.8v1.8h-1.8zM1587.35 971.9h1.8v1.8h-1.8zM1596.45 971.9h1.8v1.8h-1.8zM1645.85 971.9h1.8v1.8h-1.8zM1654.95 971.9h1.8v1.8h-1.8zM1704.35 971.9h1.8v1.8h-1.8zM1713.45 971.9h1.8v1.8h-1.8zM1762.85 971.9h1.8v1.8h-1.8zM1771.95 971.9h1.8v1.8h-1.8zM1119.35 1028.17h1.8v1.8h-1.8zM1128.45 1028.17h1.8v1.8h-1.8zM1177.85 1028.17h1.8v1.8h-1.8zM1186.95 1028.17h1.8v1.8h-1.8zM1236.35 1028.17h1.8v1.8h-1.8zM1245.45 1028.17h1.8v1.8h-1.8zM1294.85 1028.17h1.8v1.8h-1.8zM1303.95 1028.17h1.8v1.8h-1.8zM1353.35 1028.17h1.8v1.8h-1.8zM1362.45 1028.17h1.8v1.8h-1.8zM1411.85 1028.17h1.8v1.8h-1.8zM1420.95 1028.17h1.8v1.8h-1.8zM1470.35 1028.17h1.8v1.8h-1.8zM1479.45 1028.17h1.8v1.8h-1.8zM1528.85 1028.17h1.8v1.8h-1.8zM1537.95 1028.17h1.8v1.8h-1.8zM1587.35 1028.17h1.8v1.8h-1.8zM1596.45 1028.17h1.8v1.8h-1.8zM1645.85 1028.17h1.8v1.8h-1.8zM1654.95 1028.17h1.8v1.8h-1.8zM1704.35 1028.17h1.8v1.8h-1.8zM1713.45 1028.17h1.8v1.8h-1.8zM1119.35 1084.44h1.8v1.8h-1.8zM1128.45 1084.44h1.8v1.8h-1.8zM1177.85 1084.44h1.8v1.8h-1.8zM1186.95 1084.44h1.8v1.8h-1.8zM1236.35 1084.44h1.8v1.8h-1.8zM1245.45 1084.44h1.8v1.8h-1.8zM1294.85 1084.44h1.8v1.8h-1.8zM1303.95 1084.44h1.8v1.8h-1.8zM1353.35 1084.44h1.8v1.8h-1.8zM1362.45 1084.44h1.8v1.8h-1.8zM1411.85 1084.44h1.8v1.8h-1.8zM1420.95 1084.44h1.8v1.8h-1.8zM1470.35 1084.44h1.8v1.8h-1.8zM1479.45 1084.44h1.8v1.8h-1.8zM1528.85 1084.44h1.8v1.8h-1.8zM1537.95 1084.44h1.8v1.8h-1.8zM1587.35 1084.44h1.8v1.8h-1.8zM1596.45 1084.44h1.8v1.8h-1.8zM1645.85 1084.44h1.8v1.8h-1.8zM1654.95 1084.44h1.8v1.8h-1.8zM1119.35 1140.71h1.8v1.8h-1.8zM1128.45 1140.71h1.8v1.8h-1.8zM1177.85 1140.71h1.8v1.8h-1.8zM1186.95 1140.71h1.8v1.8h-1.8zM1236.35 1140.71h1.8v1.8h-1.8zM1245.45 1140.71h1.8v1.8h-1.8zM1294.85 1140.71h1.8v1.8h-1.8zM1303.95 1140.71h1.8v1.8h-1.8zM1353.35 1140.71h1.8v1.8h-1.8zM1362.45 1140.71h1.8v1.8h-1.8zM1411.85 1140.71h1.8v1.8h-1.8zM1420.95 1140.71h1.8v1.8h-1.8zM1470.35 1140.71h1.8v1.8h-1.8zM1479.45 1140.71h1.8v1.8h-1.8zM1528.85 1140.71h1.8v1.8h-1.8zM1537.95 1140.71h1.8v1.8h-1.8zM1587.35 1140.71h1.8v1.8h-1.8zM1596.45 1140.71h1.8v1.8h-1.8zM1119.35 1196.98h1.8v1.8h-1.8zM1128.45 1196.98h1.8v1.8h-1.8zM1177.85 1196.98h1.8v1.8h-1.8zM1186.95 1196.98h1.8v1.8h-1.8zM1236.35 1196.98h1.8v1.8h-1.8zM1245.45 1196.98h1.8v1.8h-1.8zM1294.85 1196.98h1.8v1.8h-1.8zM1303.95 1196.98h1.8v1.8h-1.8zM1353.35 1196.98h1.8v1.8h-1.8zM1362.45 1196.98h1.8v1.8h-1.8zM1411.85 1196.98h1.8v1.8h-1.8zM1420.95 1196.98h1.8v1.8h-1.8zM1470.35 1196.98h1.8v1.8h-1.8zM1479.45 1196.98h1.8v1.8h-1.8zM1528.85 1196.98h1.8v1.8h-1.8zM1537.95 1196.98h1.8v1.8h-1.8zM1119.35 1253.25h1.8v1.8h-1.8zM1128.45 1253.25h1.8v1.8h-1.8zM1177.85 1253.25h1.8v1.8h-1.8zM1186.95 1253.25h1.8v1.8h-1.8zM1236.35 1253.25h1.8v1.8h-1.8zM1245.45 1253.25h1.8v1.8h-1.8zM1294.85 1253.25h1.8v1.8h-1.8zM1303.95 1253.25h1.8v1.8h-1.8zM1353.35 1253.25h1.8v1.8h-1.8zM1362.45 1253.25h1.8v1.8h-1.8zM1411.85 1253.25h1.8v1.8h-1.8zM1420.95 1253.25h1.8v1.8h-1.8zM1470.35 1253.25h1.8v1.8h-1.8zM1479.45 1253.25h1.8v1.8h-1.8zM1119.35 1309.52h1.8v1.8h-1.8zM1128.45 1309.52h1.8v1.8h-1.8zM1177.85 1309.52h1.8v1.8h-1.8zM1186.95 1309.52h1.8v1.8h-1.8zM1236.35 1309.52h1.8v1.8h-1.8zM1245.45 1309.52h1.8v1.8h-1.8zM1294.85 1309.52h1.8v1.8h-1.8zM1303.95 1309.52h1.8v1.8h-1.8zM1353.35 1309.52h1.8v1.8h-1.8zM1362.45 1309.52h1.8v1.8h-1.8zM1411.85 1309.52h1.8v1.8h-1.8zM1420.95 1309.52h1.8v1.8h-1.8zM1119.35 1365.79h1.8v1.8h-1.8zM1128.45 1365.79h1.8v1.8h-1.8zM1177.85 1365.79h1.8v1.8h-1.8zM1186.95 1365.79h1.8v1.8h-1.8zM1236.35 1365.79h1.8v1.8h-1.8zM1245.45 1365.79h1.8v1.8h-1.8zM1294.85 1365.79h1.8v1.8h-1.8zM1303.95 1365.79h1.8v1.8h-1.8zM1353.35 1365.79h1.8v1.8h-1.8zM1362.45 1365.79h1.8v1.8h-1.8zM1119.35 1422.06h1.8v1.8h-1.8zM1128.45 1422.06h1.8v1.8h-1.8zM1177.85 1422.06h1.8v1.8h-1.8zM1186.95 1422.06h1.8v1.8h-1.8zM1236.35 1422.06h1.8v1.8h-1.8zM1245.45 1422.06h1.8v1.8h-1.8zM1294.85 1422.06h1.8v1.8h-1.8zM1303.95 1422.06h1.8v1.8h-1.8zM1119.35 1478.33h1.8v1.8h-1.8zM1128.45 1478.33h1.8v1.8h-1.8zM1177.85 1478.33h1.8v1.8h-1.8zM1186.95 1478.33h1.8v1.8h-1.8zM1236.35 1478.33h1.8v1.8h-1.8zM1245.45 1478.33h1.8v1.8h-1.8zM1119.35 1534.6h1.8v1.8h-1.8zM1128.45 1534.6h1.8v1.8h-1.8zM1177.85 1534.6h1.8v1.8h-1.8zM1186.95 1534.6h1.8v1.8h-1.8zM1119.35 1590.87h1.8v1.8h-1.8zM1128.45 1590.87h1.8v1.8h-1.8z" fill="#dee3ec"/>
<path d="M1125.65 915.53h1.6v1.8h-1.6zM1134.85 915.53h1.6v1.8h-1.6zM1184.15 915.53h1.6v1.8h-1.6zM1193.35 915.53h1.6v1.8h-1.6zM1242.65 915.53h1.6v1.8h-1.6zM1251.85 915.53h1.6v1.8h-1.6zM1301.15 915.53h1.6v1.8h-1.6zM1310.35 915.53h1.6v1.8h-1.6zM1359.65 915.53h1.6v1.8h-1.6zM1368.85 915.53h1.6v1.8h-1.6zM1418.15 915.53h1.6v1.8h-1.6zM1427.35 915.53h1.6v1.8h-1.6zM1476.65 915.53h1.6v1.8h-1.6zM1485.85 915.53h1.6v1.8h-1.6zM1535.15 915.53h1.6v1.8h-1.6zM1544.35 915.53h1.6v1.8h-1.6zM1593.65 915.53h1.6v1.8h-1.6zM1602.85 915.53h1.6v1.8h-1.6zM1652.15 915.53h1.6v1.8h-1.6zM1661.35 915.53h1.6v1.8h-1.6zM1710.65 915.53h1.6v1.8h-1.6zM1719.85 915.53h1.6v1.8h-1.6zM1769.15 915.53h1.6v1.8h-1.6zM1778.35 915.53h1.6v1.8h-1.6zM1827.65 915.53h1.6v1.8h-1.6zM1836.85 915.53h1.6v1.8h-1.6zM1125.65 971.8h1.6v1.8h-1.6zM1134.85 971.8h1.6v1.8h-1.6zM1184.15 971.8h1.6v1.8h-1.6zM1193.35 971.8h1.6v1.8h-1.6zM1242.65 971.8h1.6v1.8h-1.6zM1251.85 971.8h1.6v1.8h-1.6zM1301.15 971.8h1.6v1.8h-1.6zM1310.35 971.8h1.6v1.8h-1.6zM1359.65 971.8h1.6v1.8h-1.6zM1368.85 971.8h1.6v1.8h-1.6zM1418.15 971.8h1.6v1.8h-1.6zM1427.35 971.8h1.6v1.8h-1.6zM1476.65 971.8h1.6v1.8h-1.6zM1485.85 971.8h1.6v1.8h-1.6zM1535.15 971.8h1.6v1.8h-1.6zM1544.35 971.8h1.6v1.8h-1.6zM1593.65 971.8h1.6v1.8h-1.6zM1602.85 971.8h1.6v1.8h-1.6zM1652.15 971.8h1.6v1.8h-1.6zM1661.35 971.8h1.6v1.8h-1.6zM1710.65 971.8h1.6v1.8h-1.6zM1719.85 971.8h1.6v1.8h-1.6zM1769.15 971.8h1.6v1.8h-1.6zM1778.35 971.8h1.6v1.8h-1.6zM1125.65 1028.07h1.6v1.8h-1.6zM1134.85 1028.07h1.6v1.8h-1.6zM1184.15 1028.07h1.6v1.8h-1.6zM1193.35 1028.07h1.6v1.8h-1.6zM1242.65 1028.07h1.6v1.8h-1.6zM1251.85 1028.07h1.6v1.8h-1.6zM1301.15 1028.07h1.6v1.8h-1.6zM1310.35 1028.07h1.6v1.8h-1.6zM1359.65 1028.07h1.6v1.8h-1.6zM1368.85 1028.07h1.6v1.8h-1.6zM1418.15 1028.07h1.6v1.8h-1.6zM1427.35 1028.07h1.6v1.8h-1.6zM1476.65 1028.07h1.6v1.8h-1.6zM1485.85 1028.07h1.6v1.8h-1.6zM1535.15 1028.07h1.6v1.8h-1.6zM1544.35 1028.07h1.6v1.8h-1.6zM1593.65 1028.07h1.6v1.8h-1.6zM1602.85 1028.07h1.6v1.8h-1.6zM1652.15 1028.07h1.6v1.8h-1.6zM1661.35 1028.07h1.6v1.8h-1.6zM1710.65 1028.07h1.6v1.8h-1.6zM1719.85 1028.07h1.6v1.8h-1.6zM1125.65 1084.34h1.6v1.8h-1.6zM1134.85 1084.34h1.6v1.8h-1.6zM1184.15 1084.34h1.6v1.8h-1.6zM1193.35 1084.34h1.6v1.8h-1.6zM1242.65 1084.34h1.6v1.8h-1.6zM1251.85 1084.34h1.6v1.8h-1.6zM1301.15 1084.34h1.6v1.8h-1.6zM1310.35 1084.34h1.6v1.8h-1.6zM1359.65 1084.34h1.6v1.8h-1.6zM1368.85 1084.34h1.6v1.8h-1.6zM1418.15 1084.34h1.6v1.8h-1.6zM1427.35 1084.34h1.6v1.8h-1.6zM1476.65 1084.34h1.6v1.8h-1.6zM1485.85 1084.34h1.6v1.8h-1.6zM1535.15 1084.34h1.6v1.8h-1.6zM1544.35 1084.34h1.6v1.8h-1.6zM1593.65 1084.34h1.6v1.8h-1.6zM1602.85 1084.34h1.6v1.8h-1.6zM1652.15 1084.34h1.6v1.8h-1.6zM1661.35 1084.34h1.6v1.8h-1.6zM1125.65 1140.61h1.6v1.8h-1.6zM1134.85 1140.61h1.6v1.8h-1.6zM1184.15 1140.61h1.6v1.8h-1.6zM1193.35 1140.61h1.6v1.8h-1.6zM1242.65 1140.61h1.6v1.8h-1.6zM1251.85 1140.61h1.6v1.8h-1.6zM1301.15 1140.61h1.6v1.8h-1.6zM1310.35 1140.61h1.6v1.8h-1.6zM1359.65 1140.61h1.6v1.8h-1.6zM1368.85 1140.61h1.6v1.8h-1.6zM1418.15 1140.61h1.6v1.8h-1.6zM1427.35 1140.61h1.6v1.8h-1.6zM1476.65 1140.61h1.6v1.8h-1.6zM1485.85 1140.61h1.6v1.8h-1.6zM1535.15 1140.61h1.6v1.8h-1.6zM1544.35 1140.61h1.6v1.8h-1.6zM1593.65 1140.61h1.6v1.8h-1.6zM1602.85 1140.61h1.6v1.8h-1.6zM1125.65 1196.88h1.6v1.8h-1.6zM1134.85 1196.88h1.6v1.8h-1.6zM1184.15 1196.88h1.6v1.8h-1.6zM1193.35 1196.88h1.6v1.8h-1.6zM1242.65 1196.88h1.6v1.8h-1.6zM1251.85 1196.88h1.6v1.8h-1.6zM1301.15 1196.88h1.6v1.8h-1.6zM1310.35 1196.88h1.6v1.8h-1.6zM1359.65 1196.88h1.6v1.8h-1.6zM1368.85 1196.88h1.6v1.8h-1.6zM1418.15 1196.88h1.6v1.8h-1.6zM1427.35 1196.88h1.6v1.8h-1.6zM1476.65 1196.88h1.6v1.8h-1.6zM1485.85 1196.88h1.6v1.8h-1.6zM1535.15 1196.88h1.6v1.8h-1.6zM1544.35 1196.88h1.6v1.8h-1.6zM1125.65 1253.15h1.6v1.8h-1.6zM1134.85 1253.15h1.6v1.8h-1.6zM1184.15 1253.15h1.6v1.8h-1.6zM1193.35 1253.15h1.6v1.8h-1.6zM1242.65 1253.15h1.6v1.8h-1.6zM1251.85 1253.15h1.6v1.8h-1.6zM1301.15 1253.15h1.6v1.8h-1.6zM1310.35 1253.15h1.6v1.8h-1.6zM1359.65 1253.15h1.6v1.8h-1.6zM1368.85 1253.15h1.6v1.8h-1.6zM1418.15 1253.15h1.6v1.8h-1.6zM1427.35 1253.15h1.6v1.8h-1.6zM1476.65 1253.15h1.6v1.8h-1.6zM1485.85 1253.15h1.6v1.8h-1.6zM1125.65 1309.42h1.6v1.8h-1.6zM1134.85 1309.42h1.6v1.8h-1.6zM1184.15 1309.42h1.6v1.8h-1.6zM1193.35 1309.42h1.6v1.8h-1.6zM1242.65 1309.42h1.6v1.8h-1.6zM1251.85 1309.42h1.6v1.8h-1.6zM1301.15 1309.42h1.6v1.8h-1.6zM1310.35 1309.42h1.6v1.8h-1.6zM1359.65 1309.42h1.6v1.8h-1.6zM1368.85 1309.42h1.6v1.8h-1.6zM1418.15 1309.42h1.6v1.8h-1.6zM1427.35 1309.42h1.6v1.8h-1.6zM1125.65 1365.69h1.6v1.8h-1.6zM1134.85 1365.69h1.6v1.8h-1.6zM1184.15 1365.69h1.6v1.8h-1.6zM1193.35 1365.69h1.6v1.8h-1.6zM1242.65 1365.69h1.6v1.8h-1.6zM1251.85 1365.69h1.6v1.8h-1.6zM1301.15 1365.69h1.6v1.8h-1.6zM1310.35 1365.69h1.6v1.8h-1.6zM1359.65 1365.69h1.6v1.8h-1.6zM1368.85 1365.69h1.6v1.8h-1.6zM1125.65 1421.96h1.6v1.8h-1.6zM1134.85 1421.96h1.6v1.8h-1.6zM1184.15 1421.96h1.6v1.8h-1.6zM1193.35 1421.96h1.6v1.8h-1.6zM1242.65 1421.96h1.6v1.8h-1.6zM1251.85 1421.96h1.6v1.8h-1.6zM1301.15 1421.96h1.6v1.8h-1.6zM1310.35 1421.96h1.6v1.8h-1.6zM1125.65 1478.23h1.6v1.8h-1.6zM1134.85 1478.23h1.6v1.8h-1.6zM1184.15 1478.23h1.6v1.8h-1.6zM1193.35 1478.23h1.6v1.8h-1.6zM1242.65 1478.23h1.6v1.8h-1.6zM1251.85 1478.23h1.6v1.8h-1.6zM1125.65 1534.5h1.6v1.8h-1.6zM1134.85 1534.5h1.6v1.8h-1.6zM1184.15 1534.5h1.6v1.8h-1.6zM1193.35 1534.5h1.6v1.8h-1.6zM1125.65 1590.77h1.6v1.8h-1.6zM1134.85 1590.77h1.6v1.8h-1.6z" fill="#fbfbf1"/>
<g class="rose">
<path d="M1341.64 1113.09L1608.13 1100.2A320.8 320.8 0 0 0 1578.63 980.51L1336.67 1092.94A54 54 0 0 1 1341.64 1113.09Z" fill="#9c2520"/>
<path d="M1334.25 1088.32L1448.89 1020.9A187 187 0 0 0 1401.24 967.11L1320.49 1072.79A54 54 0 0 1 1334.25 1088.32Z" fill="#dc3429"/>
<path d="M1316.19 1069.83L1367.11 987.86A150.5 150.5 0 0 0 1313.04 967.35L1296.79 1062.47A54 54 0 0 1 1316.19 1069.83Z" fill="#ee8a5a"/>
<path d="M1291.61 1061.84L1297.19 985.04A131 131 0 0 0 1247.22 991.11L1271.01 1064.34A54 54 0 0 1 1291.61 1061.84Z" fill="#f1e690"/>
<path d="M1266.13 1066.19L1240.97 1008.44A117 117 0 0 0 1203.97 1033.97L1249.06 1077.98A54 54 0 0 1 1266.13 1066.19Z" fill="#e1f6f9"/>
<path d="M1245.6 1081.89L1209.73 1053.08A100 100 0 0 0 1191.88 1087.11L1235.95 1100.26A54 54 0 0 1 1245.6 1081.89Z" fill="#98c4de"/>
<path d="M1234.71 1105.33L1208.7 1100.23A80.5 80.5 0 0 0 1208.7 1131.17L1234.71 1126.07A54 54 0 0 1 1234.71 1105.33Z" fill="#507cbb"/>
<path d="M1235.95 1131.14L1214.2 1137.63A76.7 76.7 0 0 0 1227.9 1163.73L1245.6 1149.51A54 54 0 0 1 1235.95 1131.14Z" fill="#365079"/>
<path d="M1249.06 1153.42L1233.67 1168.44A75.5 75.5 0 0 0 1257.55 1184.92L1266.13 1165.21A54 54 0 0 1 1249.06 1153.42Z" fill="#9c2520"/>
<path d="M1271.01 1167.06L1264.77 1186.27A74.2 74.2 0 0 0 1293.07 1189.71L1291.61 1169.56A54 54 0 0 1 1271.01 1167.06Z" fill="#dc3429"/>
<path d="M1296.79 1168.93L1298.53 1179.08A64.3 64.3 0 0 0 1321.63 1170.32L1316.19 1161.57A54 54 0 0 1 1296.79 1168.93Z" fill="#ee8a5a"/>
<path d="M1320.49 1158.61L1322.79 1161.63A57.8 57.8 0 0 0 1337.52 1145L1334.25 1143.08A54 54 0 0 1 1320.49 1158.61Z" fill="#f1e690"/>
<path d="M1336.67 1138.46L1338.48 1139.3A56 56 0 0 0 1343.63 1118.41L1341.64 1118.31A54 54 0 0 1 1336.67 1138.46Z" fill="#e1f6f9"/>
<circle cx="1287.7" cy="1115.7" r="49" fill="none" stroke="#484848" stroke-width="2.2"/>
</g>
<g class="cv" text-anchor="middle">
<text font-size="22.9" transform="translate(1830.25 980.75) scale(1.02 1)" class="w">0.02</text>
<text font-size="22.9" transform="translate(1771.75 1037.02) scale(1.02 1)" class="w">0.05</text>
<text font-size="22.9" transform="translate(1830.25 1037.02) scale(1.02 1)" class="w">0.04</text>
<text font-size="22.9" transform="translate(1713.25 1093.29) scale(1.02 1)" class="w">0.04</text>
<text font-size="22.9" transform="translate(1771.75 1093.29) scale(1.02 1)" class="w">0.03</text>
<text font-size="22.9" transform="translate(1830.25 1093.29) scale(1.02 1)" class="w">0.01</text>
<text font-size="22.9" transform="translate(1654.75 1149.56) scale(1.02 1)" class="w">0.05</text>
<text font-size="22.9" transform="translate(1713.25 1149.56) scale(1.02 1)" class="w">0.06</text>
<text font-size="22.9" transform="translate(1771.75 1149.56) scale(1.02 1)" class="w">0.05</text>
<text font-size="22.9" transform="translate(1830.25 1149.56) scale(1.02 1)" class="w">0.04</text>
<text font-size="22.9" transform="translate(1596.25 1205.83) scale(1.02 1)">0.22</text>
<text font-size="22.9" transform="translate(1654.75 1205.83) scale(1.02 1)">0.18</text>
<text font-size="22.9" transform="translate(1713.25 1205.83) scale(1.02 1)">0.21</text>
<text font-size="22.9" transform="translate(1771.75 1205.83) scale(1.02 1)">0.19</text>
<text font-size="22.9" transform="translate(1830.25 1205.83) scale(1.02 1)">0.18</text>
<text font-size="22.9" transform="translate(1537.75 1262.1) scale(1.02 1)">0.22</text>
<text font-size="22.9" transform="translate(1596.25 1262.1) scale(1.02 1)" class="w">0.10</text>
<text font-size="22.9" transform="translate(1654.75 1262.1) scale(1.02 1)" class="w">0.06</text>
<text font-size="22.9" transform="translate(1713.25 1262.1) scale(1.02 1)" class="w">0.08</text>
<text font-size="22.9" transform="translate(1771.75 1262.1) scale(1.02 1)" class="w">0.07</text>
<text font-size="22.9" transform="translate(1830.25 1262.1) scale(1.02 1)" class="w">0.06</text>
<text font-size="22.9" transform="translate(1479.25 1318.37) scale(1.02 1)" class="w">0.14</text>
<text font-size="22.9" transform="translate(1537.75 1318.37) scale(1.02 1)">0.29</text>
<text font-size="22.9" transform="translate(1596.25 1318.37) scale(1.02 1)">0.17</text>
<text font-size="22.9" transform="translate(1654.75 1318.37) scale(1.02 1)" class="w">0.11</text>
<text font-size="22.9" transform="translate(1713.25 1318.37) scale(1.02 1)" class="w">0.13</text>
<text font-size="22.9" transform="translate(1771.75 1318.37) scale(1.02 1)" class="w">0.13</text>
<text font-size="22.9" transform="translate(1830.25 1318.37) scale(1.02 1)" class="w">0.12</text>
<text font-size="22.9" transform="translate(1420.75 1374.64) scale(1.02 1)">0.21</text>
<text font-size="22.9" transform="translate(1479.25 1374.64) scale(1.02 1)" class="w">0.12</text>
<text font-size="22.9" transform="translate(1537.75 1374.64) scale(1.02 1)">0.25</text>
<text font-size="22.9" transform="translate(1596.25 1374.64) scale(1.02 1)" class="w">0.08</text>
<text font-size="22.9" transform="translate(1654.75 1374.64) scale(1.02 1)" class="w">0.03</text>
<text font-size="22.9" transform="translate(1713.25 1374.64) scale(1.02 1)" class="w">0.06</text>
<text font-size="22.9" transform="translate(1771.75 1374.64) scale(1.02 1)" class="w">0.04</text>
<text font-size="22.9" transform="translate(1830.25 1374.64) scale(1.02 1)" class="w">0.04</text>
<text font-size="22.9" transform="translate(1362.25 1430.9) scale(1.02 1)" class="w">0.08</text>
<text font-size="22.9" transform="translate(1420.75 1430.9) scale(1.02 1)" class="w">0.15</text>
<text font-size="22.9" transform="translate(1479.25 1430.9) scale(1.02 1)" class="w">0.09</text>
<text font-size="22.9" transform="translate(1537.75 1430.9) scale(1.02 1)">0.23</text>
<text font-size="22.9" transform="translate(1596.25 1430.9) scale(1.02 1)" class="w">0.07</text>
<text font-size="22.9" transform="translate(1654.75 1430.9) scale(1.02 1)" class="w">0.04</text>
<text font-size="22.9" transform="translate(1713.25 1430.9) scale(1.02 1)" class="w">0.06</text>
<text font-size="22.9" transform="translate(1771.75 1430.9) scale(1.02 1)" class="w">0.04</text>
<text font-size="22.9" transform="translate(1830.25 1430.9) scale(1.02 1)" class="w">0.04</text>
<text font-size="22.9" transform="translate(1303.75 1487.17) scale(1.02 1)" class="w">0.09</text>
<text font-size="22.9" transform="translate(1362.25 1487.17) scale(1.02 1)" class="w">0.12</text>
<text font-size="22.9" transform="translate(1420.75 1487.17) scale(1.02 1)">0.27</text>
<text font-size="22.9" transform="translate(1479.25 1487.17) scale(1.02 1)" class="w">0.15</text>
<text font-size="22.9" transform="translate(1537.75 1487.17) scale(1.02 1)">0.28</text>
<text font-size="22.9" transform="translate(1596.25 1487.17) scale(1.02 1)" class="w">0.12</text>
<text font-size="22.9" transform="translate(1654.75 1487.17) scale(1.02 1)" class="w">0.09</text>
<text font-size="22.9" transform="translate(1713.25 1487.17) scale(1.02 1)" class="w">0.11</text>
<text font-size="22.9" transform="translate(1771.75 1487.17) scale(1.02 1)" class="w">0.10</text>
<text font-size="22.9" transform="translate(1830.25 1487.17) scale(1.02 1)" class="w">0.08</text>
<text font-size="22.9" transform="translate(1245.25 1543.44) scale(1.02 1)">0.49</text>
<text font-size="22.9" transform="translate(1303.75 1543.44) scale(1.02 1)">0.39</text>
<text font-size="22.9" transform="translate(1362.25 1543.44) scale(1.02 1)">0.44</text>
<text font-size="22.9" transform="translate(1420.75 1543.44) scale(1.02 1)">0.35</text>
<text font-size="22.9" transform="translate(1479.25 1543.44) scale(1.02 1)">0.36</text>
<text font-size="22.9" transform="translate(1537.75 1543.44) scale(1.02 1)">0.39</text>
<text font-size="22.9" transform="translate(1596.25 1543.44) scale(1.02 1)">0.40</text>
<text font-size="22.9" transform="translate(1654.75 1543.44) scale(1.02 1)">0.36</text>
<text font-size="22.9" transform="translate(1713.25 1543.44) scale(1.02 1)">0.36</text>
<text font-size="22.9" transform="translate(1771.75 1543.44) scale(1.02 1)">0.36</text>
<text font-size="22.9" transform="translate(1830.25 1543.44) scale(1.02 1)">0.37</text>
<text font-size="22.9" transform="translate(1186.75 1599.71) scale(1.02 1)" class="w">0.73</text>
<text font-size="22.9" transform="translate(1245.25 1599.71) scale(1.02 1)" class="w">0.14</text>
<text font-size="22.9" transform="translate(1303.75 1599.71) scale(1.02 1)" class="w">0.14</text>
<text font-size="22.9" transform="translate(1362.25 1599.71) scale(1.02 1)" class="w">0.15</text>
<text font-size="22.9" transform="translate(1420.75 1599.71) scale(1.02 1)">0.35</text>
<text font-size="22.9" transform="translate(1479.25 1599.71) scale(1.02 1)">0.21</text>
<text font-size="22.9" transform="translate(1537.75 1599.71) scale(1.02 1)">0.35</text>
<text font-size="22.9" transform="translate(1596.25 1599.71) scale(1.02 1)">0.23</text>
<text font-size="22.9" transform="translate(1654.75 1599.71) scale(1.02 1)" class="w">0.13</text>
<text font-size="22.9" transform="translate(1713.25 1599.71) scale(1.02 1)">0.18</text>
<text font-size="22.9" transform="translate(1771.75 1599.71) scale(1.02 1)" class="w">0.14</text>
<text font-size="22.9" transform="translate(1830.25 1599.71) scale(1.02 1)" class="w">0.14</text>
</g>
<rect x="1099" y="886.4" width="760.5" height="731.5" fill="none" stroke="#000" stroke-width="2.7"/>
<path d="M1084.5 914.53H1099M1128.25 1617.9V1632.4M1084.5 970.8H1099M1186.75 1617.9V1632.4M1084.5 1027.07H1099M1245.25 1617.9V1632.4M1084.5 1083.34H1099M1303.75 1617.9V1632.4M1084.5 1139.61H1099M1362.25 1617.9V1632.4M1084.5 1195.88H1099M1420.75 1617.9V1632.4M1084.5 1252.15H1099M1479.25 1617.9V1632.4M1084.5 1308.42H1099M1537.75 1617.9V1632.4M1084.5 1364.69H1099M1596.25 1617.9V1632.4M1084.5 1420.96H1099M1654.75 1617.9V1632.4M1084.5 1477.23H1099M1713.25 1617.9V1632.4M1084.5 1533.5H1099M1771.75 1617.9V1632.4M1084.5 1589.77H1099M1830.25 1617.9V1632.4" stroke="#000" stroke-width="2.8" fill="none"/>
<g class="yl" text-anchor="end">
<text font-size="26" transform="translate(1074.9 922.11) scale(1.032 1)">DD</text>
<text font-size="26" transform="translate(1074.9 978.38) scale(1.029 1)">DR</text>
<text font-size="26" transform="translate(1074.9 1034.65) scale(1.053 1)">ASP</text>
<text font-size="26" transform="translate(1074.9 1090.92) scale(1.064 1)">SLO</text>
<text font-size="26" transform="translate(1074.9 1147.19) scale(1 1)">ELE</text>
<text font-size="26" transform="translate(1074.9 1203.46) scale(1.134 1)">PoPT</text>
<text font-size="26" transform="translate(1074.9 1259.73) scale(1.118 1)">PoPC</text>
<text font-size="26" transform="translate(1074.9 1316) scale(1.107 1)">PoTR</text>
<text font-size="26" transform="translate(1074.9 1372.27) scale(1.08 1)">PPT</text>
<text font-size="26" transform="translate(1074.9 1428.53) scale(1.08 1)">PPC</text>
<text font-size="26" transform="translate(1074.9 1484.8) scale(1.06 1)">PTR</text>
<text font-size="26" transform="translate(1074.9 1541.07) scale(1.043 1)">EOS</text>
<text font-size="26" transform="translate(1074.9 1597.34) scale(1.032 1)">SOS</text>
</g>
<g class="xl" text-anchor="end">
<text font-size="26" transform="translate(1139.23 1639.5) rotate(-90) scale(1.032 1)">SOS</text>
<text font-size="26" transform="translate(1197.73 1639.5) rotate(-90) scale(1.043 1)">EOS</text>
<text font-size="26" transform="translate(1256.23 1639.5) rotate(-90) scale(1.06 1)">PTR</text>
<text font-size="26" transform="translate(1314.73 1639.5) rotate(-90) scale(1.08 1)">PPC</text>
<text font-size="26" transform="translate(1373.23 1639.5) rotate(-90) scale(1.08 1)">PPT</text>
<text font-size="26" transform="translate(1431.73 1639.5) rotate(-90) scale(1.107 1)">PoTR</text>
<text font-size="26" transform="translate(1490.23 1639.5) rotate(-90) scale(1.118 1)">PoPC</text>
<text font-size="26" transform="translate(1548.73 1639.5) rotate(-90) scale(1.134 1)">PoPT</text>
<text font-size="26" transform="translate(1607.23 1639.5) rotate(-90) scale(1 1)">ELE</text>
<text font-size="26" transform="translate(1665.73 1639.5) rotate(-90) scale(1.064 1)">SLO</text>
<text font-size="26" transform="translate(1724.23 1639.5) rotate(-90) scale(1.053 1)">ASP</text>
<text font-size="26" transform="translate(1782.73 1639.5) rotate(-90) scale(1.029 1)">DR</text>
<text font-size="26" transform="translate(1841.23 1639.5) rotate(-90) scale(1.032 1)">DD</text>
</g>
<g class="cbar">
<rect x="1867.1" y="886.4" width="58.4" height="25.38" fill="#9c2520"/>
<rect x="1867.1" y="910.78" width="58.4" height="25.38" fill="#ad2822"/>
<rect x="1867.1" y="935.17" width="58.4" height="25.38" fill="#bb2c25"/>
<rect x="1867.1" y="959.55" width="58.4" height="25.38" fill="#c92e27"/>
<rect x="1867.1" y="983.93" width="58.4" height="25.38" fill="#d8332a"/>
<rect x="1867.1" y="1008.32" width="58.4" height="25.38" fill="#e04434"/>
<rect x="1867.1" y="1032.7" width="58.4" height="25.38" fill="#e55b42"/>
<rect x="1867.1" y="1057.08" width="58.4" height="25.38" fill="#e96f4e"/>
<rect x="1867.1" y="1081.47" width="58.4" height="25.38" fill="#ee8358"/>
<rect x="1867.1" y="1105.85" width="58.4" height="25.38" fill="#ef9862"/>
<rect x="1867.1" y="1130.23" width="58.4" height="25.38" fill="#ecab6f"/>
<rect x="1867.1" y="1154.62" width="58.4" height="25.38" fill="#edc07c"/>
<rect x="1867.1" y="1179" width="58.4" height="25.38" fill="#f0d986"/>
<rect x="1867.1" y="1203.38" width="58.4" height="25.38" fill="#f1e596"/>
<rect x="1867.1" y="1227.77" width="58.4" height="25.38" fill="#eeebb4"/>
<rect x="1867.1" y="1252.15" width="58.4" height="25.38" fill="#eaf0d6"/>
<rect x="1867.1" y="1276.53" width="58.4" height="25.38" fill="#e6f4eb"/>
<rect x="1867.1" y="1300.92" width="58.4" height="25.38" fill="#dcf4f6"/>
<rect x="1867.1" y="1325.3" width="58.4" height="25.38" fill="#c9e7ef"/>
<rect x="1867.1" y="1349.68" width="58.4" height="25.38" fill="#b6dbea"/>
<rect x="1867.1" y="1374.07" width="58.4" height="25.38" fill="#a4cde3"/>
<rect x="1867.1" y="1398.45" width="58.4" height="25.38" fill="#93bfdc"/>
<rect x="1867.1" y="1422.83" width="58.4" height="25.38" fill="#82aed3"/>
<rect x="1867.1" y="1447.22" width="58.4" height="25.38" fill="#719fcb"/>
<rect x="1867.1" y="1471.6" width="58.4" height="25.38" fill="#5f8dc3"/>
<rect x="1867.1" y="1495.98" width="58.4" height="25.38" fill="#507cbb"/>
<rect x="1867.1" y="1520.37" width="58.4" height="25.38" fill="#4a70ab"/>
<rect x="1867.1" y="1544.75" width="58.4" height="25.38" fill="#43659a"/>
<rect x="1867.1" y="1569.13" width="58.4" height="25.38" fill="#3d5a87"/>
<rect x="1867.1" y="1593.52" width="58.4" height="24.38" fill="#365079"/>
</g>
<rect x="1867.1" y="886.4" width="58.4" height="731.5" fill="none" stroke="#000" stroke-width="1.6"/>
<path d="M1925.5 886.4H1939.5M1925.5 1032.7H1939.5M1925.5 1179H1939.5M1925.5 1325.3H1939.5M1925.5 1471.6H1939.5M1925.5 1617.9H1939.5" stroke="#000" stroke-width="1.6" fill="none"/>
<g class="cl">
<text font-size="22.9" transform="translate(1949.5 895.75) scale(1.03 1)">0.73</text>
<text font-size="22.9" transform="translate(1949.5 1042.05) scale(1.03 1)">0.59</text>
<text font-size="22.9" transform="translate(1949.5 1188.35) scale(1.03 1)">0.44</text>
<text font-size="22.9" transform="translate(1949.5 1334.65) scale(1.03 1)">0.30</text>
<text font-size="22.9" transform="translate(1949.5 1480.95) scale(1.03 1)">0.16</text>
<text font-size="22.9" transform="translate(1949.5 1627.25) scale(1.03 1)">0.01</text>
</g>
<text font-size="61" transform="translate(1126.5 960) scale(1.08 1)" class="pl">c</text>
<g class="rose-labels">
<g class="rl rlg" text-anchor="middle" font-size="16.8">
<text transform="translate(1631.12 1031.05) rotate(-13.85)" y="6.12">EOS</text>
<text transform="translate(1455.14 967.36) rotate(-41.54)" y="6.12">PoPT</text>
<text transform="translate(1352.56 944.69) rotate(-69.23)" y="6.12">SOS</text>
<text transform="translate(1267.4 948.53) rotate(83.08)" y="6.12">PoTR</text>
<text transform="translate(1202.38 992.09) rotate(55.38)" y="6.12">PTR</text>
<text transform="translate(1165.95 1051.8) rotate(27.69)" y="6.12">PoPC</text>
<text transform="translate(1176.3 1115.7) rotate(0)" y="6.12">PPC</text>
<text transform="translate(1193.31 1165.24) rotate(-27.69)" y="6.12">ELE</text>
<text transform="translate(1225.78 1205.41) rotate(-55.38)" y="6.12">ASP</text>
<text transform="translate(1274.85 1221.52) rotate(-83.08)" y="6.12">PPT</text>
<text transform="translate(1320.75 1202.84) rotate(-290.77)" y="6.12">DR</text>
<text transform="translate(1354.92 1175.25) rotate(-318.46)" y="6.12">SLO</text>
<text transform="translate(1370.62 1136.14) rotate(-346.15)" y="6.12">DD</text>
</g>
</g>
<g class="qscale">
<text font-size="27.3" transform="translate(1112 1264.6) scale(1.02 1)">Q value</text>
<path d="M1117.3 1349.3H1376.6M1118.3 1349.3V1337.5M1136.68 1349.3V1343.4M1155.06 1349.3V1337.5M1173.44 1349.3V1343.4M1191.81 1349.3V1337.5M1210.19 1349.3V1343.4M1228.57 1349.3V1337.5M1246.95 1349.3V1343.4M1265.33 1349.3V1337.5M1283.71 1349.3V1343.4M1302.09 1349.3V1337.5M1320.46 1349.3V1343.4M1338.84 1349.3V1337.5M1357.22 1349.3V1343.4M1375.6 1349.3V1337.5" stroke="#000" stroke-width="2" fill="none"/>
<g text-anchor="end">
<text font-size="25.6" transform="translate(1107.07 1329) rotate(90) scale(0.958 1)">0.00</text>
<text font-size="25.6" transform="translate(1143.83 1329) rotate(90) scale(0.958 1)">0.05</text>
<text font-size="25.6" transform="translate(1180.58 1329) rotate(90) scale(0.958 1)">0.10</text>
<text font-size="25.6" transform="translate(1217.34 1329) rotate(90) scale(0.958 1)">0.15</text>
<text font-size="25.6" transform="translate(1254.1 1329) rotate(90) scale(0.958 1)">0.20</text>
<text font-size="25.6" transform="translate(1290.85 1329) rotate(90) scale(0.958 1)">0.25</text>
<text font-size="25.6" transform="translate(1327.61 1329) rotate(90) scale(0.958 1)">0.30</text>
<text font-size="25.6" transform="translate(1364.37 1329) rotate(90) scale(0.958 1)">0.35</text>
</g>
</g>
</g>
</svg>
</body></html>
